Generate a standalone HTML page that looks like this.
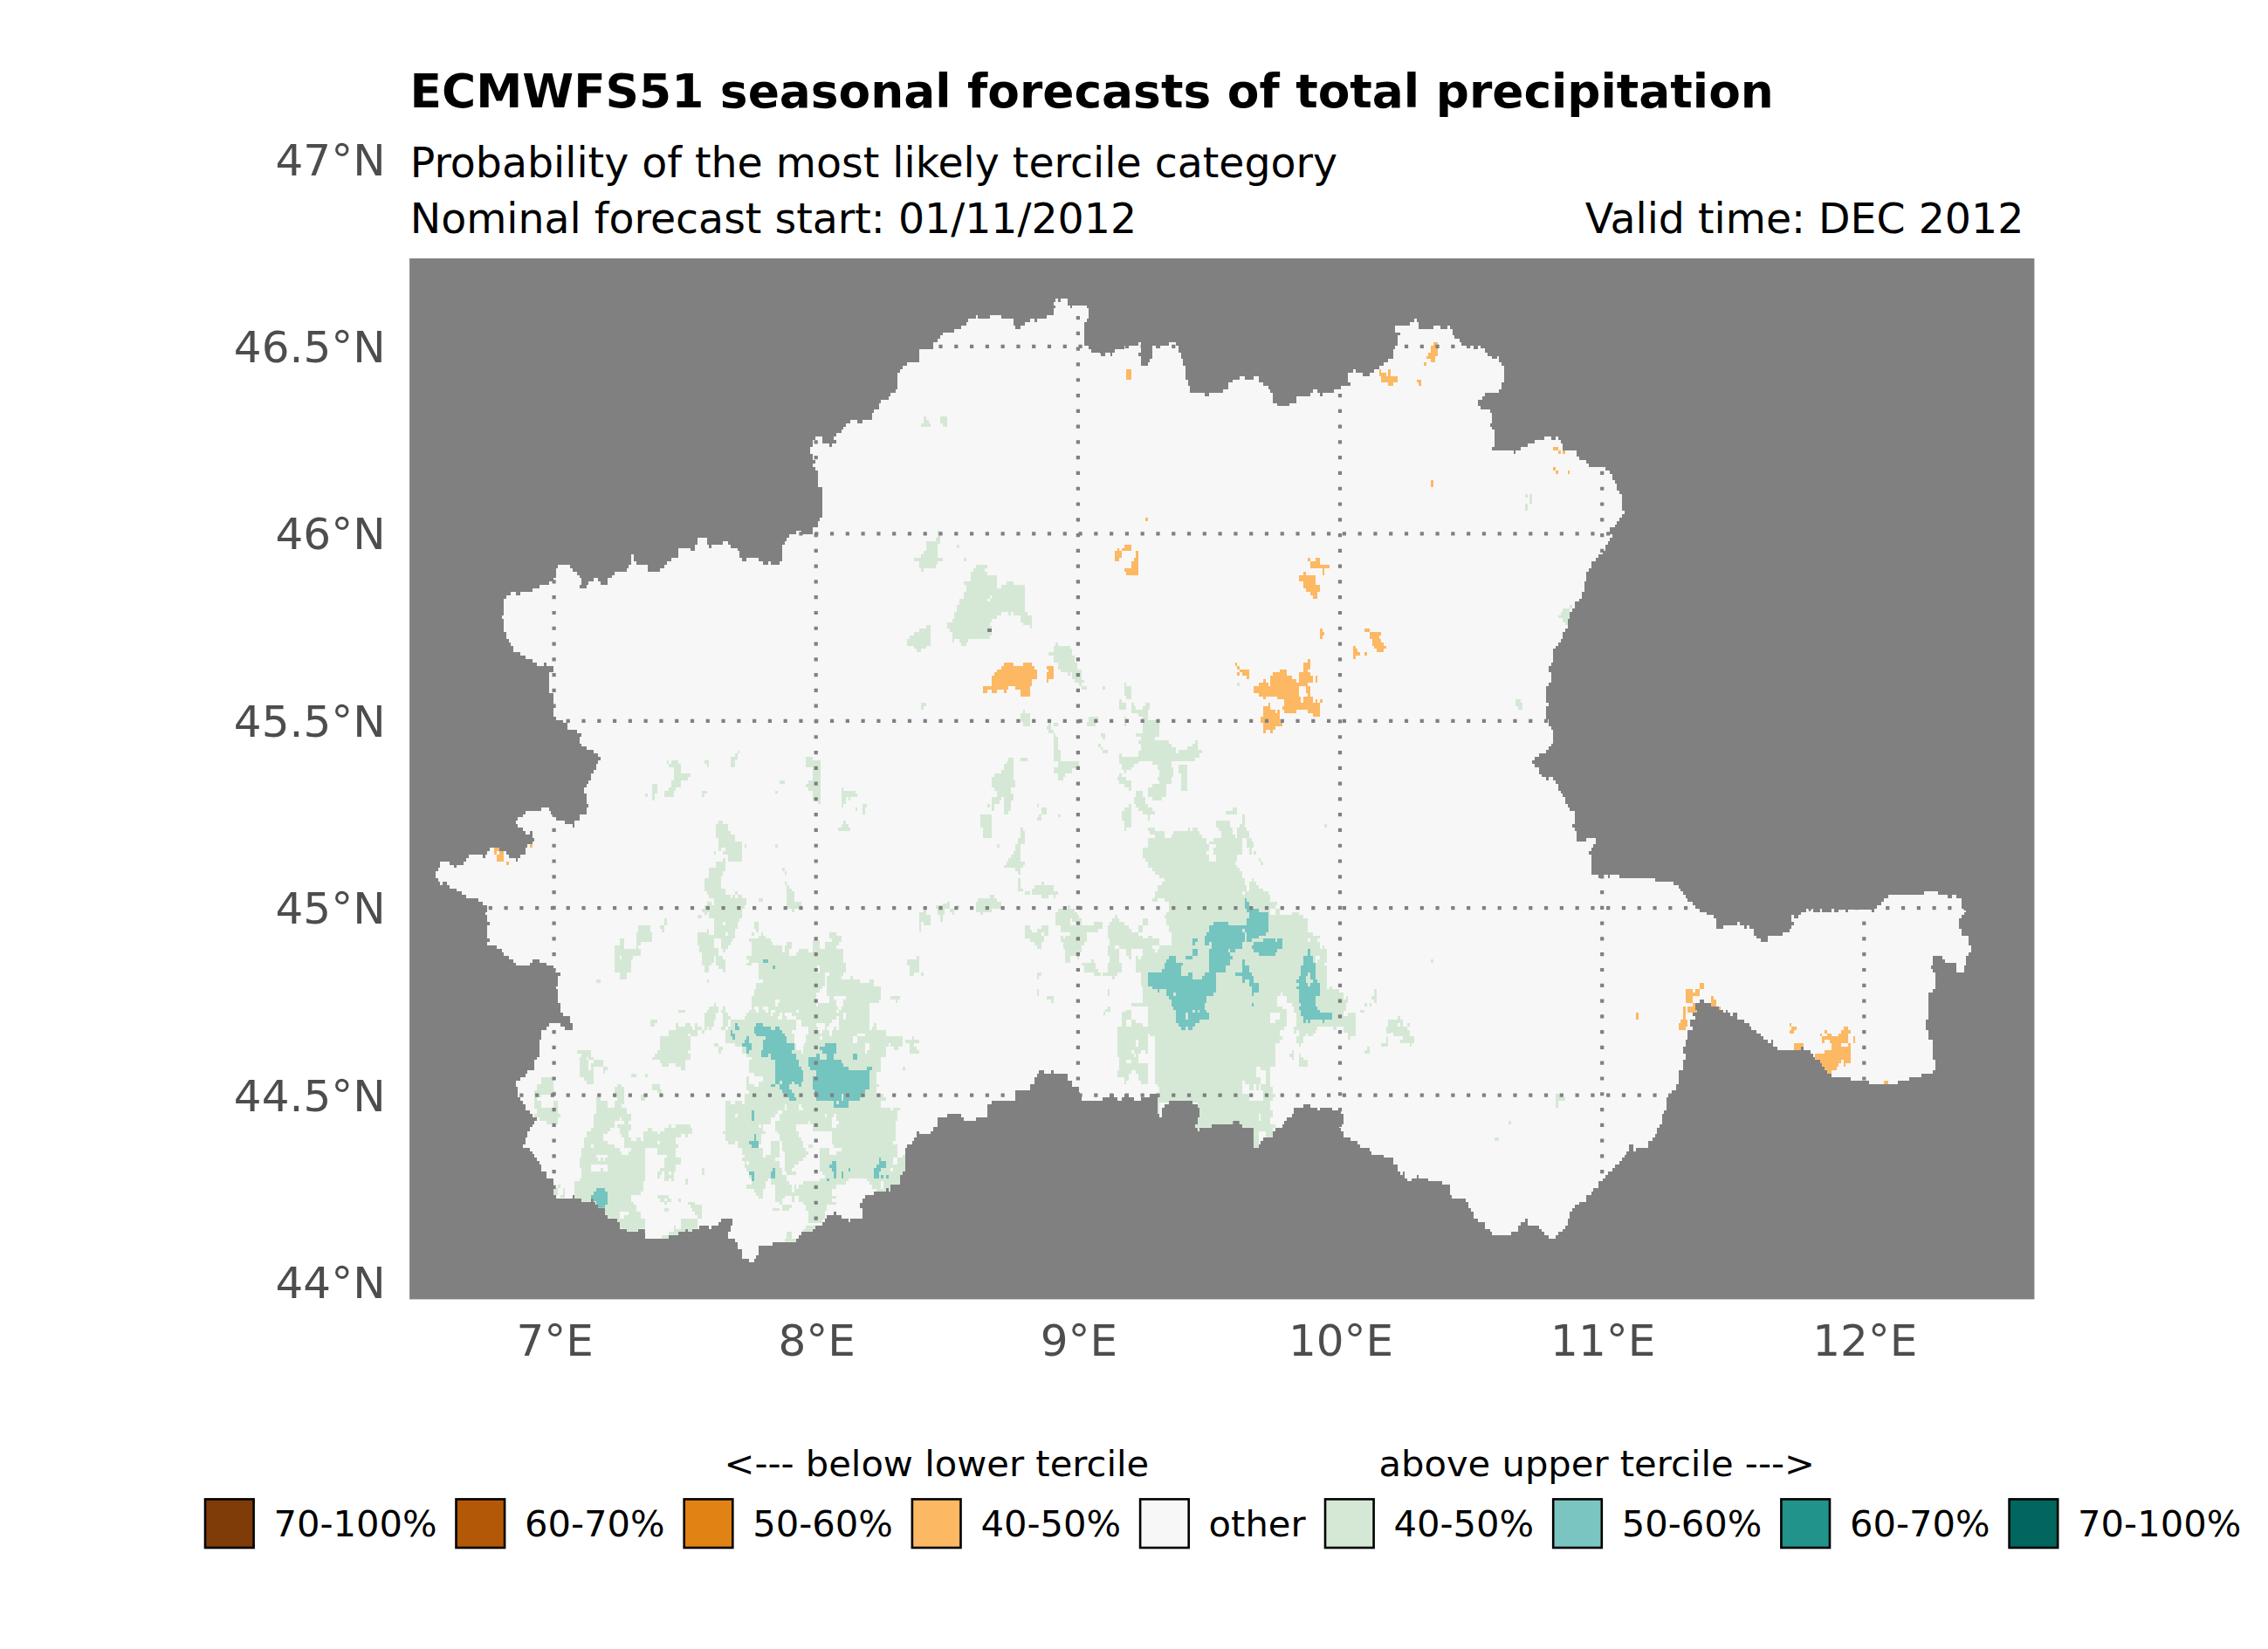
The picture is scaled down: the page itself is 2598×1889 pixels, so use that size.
<!DOCTYPE html>
<html lang="en"><head><meta charset="utf-8"><title>ECMWFS51 seasonal forecasts of total precipitation</title>
<style>html,body{margin:0;padding:0;background:#fff}svg{display:block}</style></head>
<body>
<svg width="2598" height="1889" viewBox="0 0 2598 1889">
<rect x="0" y="0" width="2598" height="1889" fill="#ffffff"/>
<rect x="469.1" y="296" width="1861.3" height="1192.4" fill="#808080"/>
<g shape-rendering="crispEdges">
<defs><clipPath id="landclip"><path d="M942,581 L942,558.2 L937.1,558.2 L937.1,539.1 L934.1,539.1 L934.1,535.1 L931.1,535.1 L931.1,531 L934.1,531 L934.1,527.1 L931.1,527.1 L931.1,520.1 L928.1,520.1 L928.1,512 L931.1,512 L931.1,504 L934.1,504 L934.1,500 L942,500 L942,507.6 L950,507.6 L950,511.6 L953,511.6 L953,507.6 L957.9,507.6 L957.9,504.2 L954.9,504.2 L954.9,500 L957.9,500 L957.9,495.9 L963.9,495.9 L963.9,491.9 L966,491.9 L966,488.7 L969,488.7 L969,485 L974.2,485 L974.2,481.1 L982.1,481.1 L982.1,484.6 L987.9,484.6 L987.9,481.1 L998.9,481.1 L998.9,473.1 L1000.8,473.1 L1000.8,469.1 L1006.8,469.1 L1006.8,462 L1009.1,462 L1009.1,458 L1017.9,458 L1017.9,454.1 L1020.2,454.1 L1020.2,450.2 L1025.9,450.2 L1025.9,446.2 L1028,446.2 L1028,426.7 L1030.8,426.7 L1030.8,422.7 L1033.8,422.7 L1033.8,418.8 L1039.1,418.8 L1039.1,414.9 L1052.9,414.9 L1052.9,399.9 L1069.1,399.9 L1069.1,392 L1074,392 L1074,387.9 L1077,387.9 L1077,384 L1080,384 L1080,381 L1092.9,381 L1092.9,376.8 L1101.2,376.8 L1101.2,372.9 L1107,372.9 L1107,369 L1108.8,369 L1108.8,365.2 L1117.6,365.2 L1117.6,361.1 L1119.7,361.1 L1119.7,365.2 L1133.8,365.2 L1133.8,361.1 L1146.7,361.1 L1146.7,365.2 L1160.8,365.2 L1160.8,372.9 L1163.1,372.9 L1163.1,376.8 L1168.8,376.8 L1168.8,372.9 L1174.1,372.9 L1174.1,369 L1179.9,369 L1179.9,365.2 L1185,365.2 L1185,369 L1187.8,369 L1187.8,365.2 L1198.8,365.2 L1198.8,361.1 L1207.1,361.1 L1207.1,352.6 L1209,352.6 L1209,350 L1207.1,350 L1207.1,346.1 L1209,346.1 L1209,342.1 L1212,342.1 L1212,346.1 L1214.7,346.1 L1214.7,342.1 L1222.9,342.1 L1222.9,350 L1226.1,350 L1226.1,353 L1227.9,353 L1227.9,350 L1245,350 L1245,353 L1247.1,353 L1247.1,365 L1245.2,365 L1245.2,369 L1242,369 L1242,395.9 L1246.9,395.9 L1246.9,399.9 L1249.9,399.9 L1249.9,403.8 L1260,403.8 L1260,403.8 L1261.4,407.9 L1265.6,407.9 L1265.6,403.8 L1272,403.8 L1272,407.9 L1274.1,407.9 L1274.1,403.8 L1277.1,403.8 L1277.1,399.9 L1287.9,399.9 L1287.9,395.9 L1289.1,395.9 L1289.1,399 L1293,399 L1293,395.9 L1303.8,395.9 L1303.8,392 L1306.8,392 L1306.8,403.8 L1304.1,403.8 L1304.1,407.9 L1307.3,407.9 L1307.3,418.8 L1315.1,418.8 L1315.1,414.9 L1316.8,414.9 L1316.8,410.9 L1320,410.9 L1320,395.9 L1324.4,395.9 L1324.4,399 L1328.5,399 L1328.5,395.9 L1338.9,395.9 L1338.9,392 L1347,392 L1347,395.9 L1350,395.9 L1350,403.8 L1353,403.8 L1353,410.9 L1355.3,410.9 L1355.3,418.8 L1358.3,418.8 L1358.3,434.7 L1360.9,434.7 L1360.9,441.7 L1363.2,441.7 L1363.2,450 L1380,450 L1380,454.1 L1384.9,454.1 L1384.9,450 L1400.8,450 L1400.8,446.2 L1406.8,446.2 L1406.8,438.2 L1412.1,438.2 L1412.1,435 L1420,435 L1420,430.8 L1425.9,430.8 L1425.9,435 L1436.1,435 L1436.1,430.8 L1441.7,430.8 L1441.7,438.2 L1447,438.2 L1447,442.1 L1452.9,442.1 L1452.9,446.2 L1455,446.2 L1455,450 L1458,450 L1458,462 L1462.9,462 L1462.9,465 L1477,465 L1477,462 L1485,462 L1485,454.1 L1500.8,454.1 L1500.8,450 L1504,450 L1504,445.8 L1508.8,445.8 L1508.8,450 L1512.3,450 L1512.3,454.1 L1515,454.1 L1515,450 L1527.8,450 L1527.8,446.2 L1536.1,446.2 L1536.1,442.1 L1546.7,442.1 L1546.7,438.2 L1543.7,438.2 L1543.7,426.7 L1549.9,426.7 L1549.9,422.9 L1552.9,422.9 L1552.9,426.7 L1560.8,426.7 L1560.8,430.8 L1568.8,430.8 L1568.8,426.7 L1574.1,426.7 L1574.1,422.9 L1579.9,422.9 L1579.9,418.8 L1585,418.8 L1585,414.9 L1590,414.9 L1590,410.9 L1595.8,410.9 L1595.8,399.9 L1598.4,399.9 L1598.4,395.9 L1601.1,395.9 L1601.1,384 L1604.1,384 L1604.1,381 L1597.9,381 L1597.9,372.9 L1614.7,372.9 L1614.7,369 L1619.9,369 L1619.9,365 L1622.9,365 L1622.9,369 L1624.9,369 L1624.9,376.8 L1642,376.8 L1642,372.9 L1649.9,372.9 L1649.9,376.8 L1657.9,376.8 L1657.9,372.9 L1660,372.9 L1660,372.9 L1661.4,372.9 L1661.4,376.8 L1663.5,376.8 L1663.5,384 L1666.2,384 L1666.2,387.9 L1671.5,387.9 L1671.5,392 L1674.1,392 L1674.1,395.9 L1679.9,395.9 L1679.9,399 L1683.8,399 L1683.8,395.9 L1687.9,395.9 L1687.9,399.9 L1693,399.9 L1693,395.9 L1696.2,395.9 L1696.2,399 L1700.9,399 L1700.9,403.8 L1704.1,403.8 L1704.1,407.9 L1709.1,407.9 L1709.1,410.9 L1715.1,410.9 L1715.1,407.9 L1717,407.9 L1717,414.9 L1720,414.9 L1720,418.8 L1723,418.8 L1723,437.9 L1720,437.9 L1720,445.8 L1716.8,445.8 L1716.8,450.2 L1700.9,450.2 L1700.9,454.1 L1697.9,454.1 L1697.9,458 L1693,458 L1693,465 L1696.2,465 L1696.2,469.1 L1706.8,469.1 L1706.8,473.1 L1709.1,473.1 L1709.1,485 L1706.8,485 L1706.8,489 L1709.1,489 L1709.1,492 L1712.1,492 L1712.1,512 L1709.1,512 L1709.1,515.8 L1734.1,515.8 L1734.1,519.9 L1735.9,519.9 L1735.9,515.8 L1742,515.8 L1742,512 L1750,512 L1750,507.9 L1757.9,507.9 L1757.9,504 L1769,504 L1769,500 L1777,500 L1777,504 L1782.1,504 L1782.1,500 L1784.9,500 L1784.9,504 L1787.9,504 L1787.9,507.9 L1790,507.9 L1790,515.8 L1805.9,515.8 L1805.9,522.9 L1809.1,522.9 L1809.1,527 L1817,527 L1817,530.8 L1820.2,530.8 L1820.2,534.9 L1839.1,534.9 L1839.1,538.8 L1844,538.8 L1844,542.8 L1847,542.8 L1847,549.9 L1850,549.9 L1850,554.1 L1852.3,554.1 L1852.3,561.7 L1855,561.7 L1855,566.1 L1858,566.1 L1858,581 L1858,581 L1858,584.9 L1861.1,584.9 L1861.1,588.9 L1858,588.9 L1858,593 L1855,593 L1855,596.9 L1852.3,596.9 L1852.3,600.9 L1850,600.9 L1850,603.9 L1844,603.9 L1844,611.9 L1847,611.9 L1847,615.9 L1844,615.9 L1844,619.8 L1841.7,619.8 L1841.7,623.9 L1839.1,623.9 L1839.1,630.9 L1836.1,630.9 L1836.1,634.8 L1830.8,634.8 L1830.8,638.9 L1828,638.9 L1828,642.8 L1823.2,642.8 L1823.2,650.7 L1820.2,650.7 L1820.2,655.1 L1817,655.1 L1817,666.2 L1815.3,666.2 L1815.3,677.7 L1812.1,677.7 L1812.1,686 L1809.1,686 L1809.1,689 L1804.2,689 L1804.2,696.9 L1800.8,696.9 L1800.8,701 L1798,701 L1798,708.9 L1795.9,708.9 L1795.9,719.9 L1792.9,719.9 L1792.9,723.9 L1790,723.9 L1790,731.9 L1787.9,731.9 L1787.9,735.9 L1784.9,735.9 L1784.9,739.8 L1782.1,739.8 L1782.1,743 L1779.1,743 L1779.1,758.9 L1777,758.9 L1777,763.1 L1774.2,763.1 L1774.2,769.8 L1777,769.8 L1777,781.8 L1774.2,781.8 L1774.2,786 L1771.2,786 L1771.2,804.7 L1774.2,804.7 L1774.2,808.6 L1771.2,808.6 L1771.2,823.6 L1774.2,823.6 L1774.2,831.6 L1777,831.6 L1777,835.6 L1779.1,835.6 L1779.1,851.5 L1777,851.5 L1777,855 L1774.2,855 L1774.2,858.9 L1771.2,858.9 L1771.2,862.8 L1763.2,862.8 L1763.2,866.8 L1757.9,866.8 L1757.9,870.7 L1755.3,870.7 L1755.3,872 L1755.3,872 L1755.3,874.6 L1757.9,874.6 L1757.9,878.7 L1763.2,878.7 L1763.2,886.6 L1765.9,886.6 L1765.9,889.6 L1771.2,889.6 L1771.2,894.1 L1774.2,894.1 L1774.2,889.6 L1779.1,889.6 L1779.1,894.1 L1782.1,894.1 L1782.1,898.1 L1784.9,898.1 L1784.9,906.1 L1787.9,906.1 L1787.9,909.1 L1790,909.1 L1790,913.1 L1792.9,913.1 L1792.9,921.1 L1795.9,921.1 L1795.9,924.9 L1798,924.9 L1798,929 L1804.2,929 L1804.2,943.8 L1800.8,943.8 L1800.8,947.9 L1804.2,947.9 L1804.2,951.9 L1805.9,951.9 L1805.9,963.8 L1817,963.8 L1817,959.9 L1828,959.9 L1828,966.9 L1825.3,966.9 L1825.3,970.8 L1823.2,970.8 L1823.2,974.9 L1820.2,974.9 L1820.2,978.7 L1823.2,978.7 L1823.2,1002 L1831.2,1002 L1831.2,1006.1 L1837.3,1006.1 L1837.3,1002 L1841.7,1002 L1841.7,1005.6 L1844,1005.6 L1844,1002 L1855,1002 L1855,1006.1 L1896.1,1006.1 L1896.1,1010 L1916.7,1010 L1916.7,1013.7 L1922.9,1013.7 L1922.9,1017.9 L1925.2,1017.9 L1925.2,1021.1 L1928.2,1021.1 L1928.2,1025.2 L1930.8,1025.2 L1930.8,1029 L1933.1,1029 L1933.1,1032.9 L1938.8,1032.9 L1938.8,1037 L1941.8,1037 L1941.8,1041 L1946.7,1041 L1946.7,1044.9 L1954.7,1044.9 L1954.7,1047.9 L1963.1,1047.9 L1963.1,1052 L1966.1,1052 L1966.1,1063.8 L1974.1,1063.8 L1974.1,1059.9 L1990,1059.9 L1990,1056 L1993,1056 L1993,1059.9 L1997.9,1059.9 L1997.9,1063.8 L2001.1,1063.8 L2001.1,1059.9 L2004.1,1059.9 L2004.1,1063.8 L2009,1063.8 L2009,1071.9 L2012,1071.9 L2012,1074.9 L2016.9,1074.9 L2016.9,1078.8 L2024.9,1078.8 L2024.9,1071.9 L2042,1071.9 L2042,1067.9 L2049.9,1067.9 L2049.9,1063.8 L2052.1,1063.8 L2052.1,1059.9 L2054.9,1059.9 L2054.9,1056 L2052.1,1056 L2052.1,1047.9 L2054.9,1047.9 L2054.9,1052 L2060,1052 L2060,1047.9 L2063.2,1047.9 L2063.2,1044.9 L2068.8,1044.9 L2068.8,1041 L2071.5,1041 L2071.5,1044 L2074.1,1044 L2074.1,1041 L2077.1,1041 L2077.1,1044.9 L2085.2,1044.9 L2085.2,1041 L2087.3,1041 L2087.3,1044.9 L2097.9,1044.9 L2097.9,1041 L2100.9,1041 L2100.9,1044.9 L2105.9,1044.9 L2105.9,1041.7 L2113.8,1041.7 L2113.8,1044.9 L2116.8,1044.9 L2116.8,1041.7 L2143.8,1041.7 L2143.8,1044.9 L2147,1044.9 L2147,1041 L2150,1041 L2150,1037 L2155.3,1037 L2155.3,1032.9 L2157.9,1032.9 L2157.9,1029 L2163.2,1029 L2163.2,1025.2 L2204.2,1025.2 L2204.2,1021.1 L2220.2,1021.1 L2220.2,1025.2 L2231.2,1025.2 L2231.2,1029 L2236.1,1029 L2236.1,1025.2 L2240.9,1025.2 L2240.9,1029 L2247,1029 L2247,1041 L2250,1041 L2250,1042.6 L2252.3,1042.6 L2252.3,1044.9 L2250,1044.9 L2250,1047.9 L2247,1047.9 L2247,1052 L2244,1052 L2244,1063.8 L2247,1063.8 L2247,1071.9 L2255,1071.9 L2255,1082.9 L2258,1082.9 L2258,1090.8 L2255,1090.8 L2255,1094.8 L2252.3,1094.8 L2252.3,1105.8 L2250,1105.8 L2250,1113.7 L2240.9,1113.7 L2240.9,1102.8 L2228,1102.8 L2228,1098.7 L2225,1098.7 L2225,1094.8 L2214,1094.8 L2214,1105.8 L2212.1,1105.8 L2212.1,1109.8 L2214,1109.8 L2214,1113.7 L2217,1113.7 L2217,1132.8 L2214,1132.8 L2214,1136.7 L2209.1,1136.7 L2209.1,1163 L2209.1,1163 L2209.1,1167.9 L2206.1,1167.9 L2206.1,1179.9 L2209.1,1179.9 L2209.1,1191 L2214.1,1191 L2214.1,1213.8 L2217.1,1213.8 L2217.1,1225.8 L2214.1,1225.8 L2214.1,1230 L2201.2,1230 L2201.2,1234.1 L2187.1,1234.1 L2187.1,1238 L2174,1238 L2174,1242 L2140.9,1242 L2140.9,1238 L2120.2,1238 L2120.2,1234.1 L2098,1234.1 L2098,1230 L2092.9,1230 L2092.9,1225.8 L2090,1225.8 L2090,1222.1 L2087,1222.1 L2087,1217.9 L2084.9,1217.9 L2084.9,1213.8 L2079.1,1213.8 L2079.1,1210.8 L2077,1210.8 L2077,1206.7 L2074.2,1206.7 L2074.2,1202.9 L2065.9,1202.9 L2065.9,1198.8 L2063.2,1198.8 L2063.2,1202.9 L2035.9,1202.9 L2035.9,1198.8 L2031.1,1198.8 L2031.1,1191 L2028.5,1191 L2028.5,1194.9 L2025.3,1194.9 L2025.3,1191 L2020,1191 L2020,1186.8 L2016.8,1186.8 L2016.8,1183.8 L2012.1,1183.8 L2012.1,1179.9 L2005.9,1179.9 L2005.9,1175.9 L2004.1,1175.9 L2004.1,1171.8 L1997.9,1171.8 L1997.9,1167.9 L1990,1167.9 L1990,1160 L1985.2,1160 L1985.2,1163.9 L1982.1,1163.9 L1982.1,1160 L1979.1,1160 L1979.1,1157 L1977.1,1157 L1977.1,1160 L1974.1,1160 L1974.1,1157 L1968.8,1157 L1968.8,1152.9 L1960,1152.9 L1960,1149.1 L1952.1,1149.1 L1952.1,1145 L1947.3,1145 L1947.3,1149.1 L1942,1149.1 L1942,1157 L1944.1,1157 L1944.1,1160 L1939,1160 L1939,1163.9 L1942,1163.9 L1942,1167.9 L1936.2,1167.9 L1936.2,1175.9 L1939,1175.9 L1939,1179.9 L1933.2,1179.9 L1933.2,1191 L1931.1,1191 L1931.1,1198.8 L1927.9,1198.8 L1927.9,1206.7 L1931.1,1206.7 L1931.1,1213.8 L1927.9,1213.8 L1927.9,1225.8 L1922.9,1225.8 L1922.9,1241.7 L1919.9,1241.7 L1919.9,1249.1 L1914.7,1249.1 L1914.7,1253.2 L1911.1,1253.2 L1911.1,1257 L1909,1257 L1909,1272 L1906.2,1272 L1906.2,1275.9 L1904.1,1275.9 L1904.1,1287.9 L1901.1,1287.9 L1901.1,1291.8 L1897.9,1291.8 L1897.9,1299 L1895.8,1299 L1895.8,1302.9 L1893,1302.9 L1893,1306.8 L1887.8,1306.8 L1887.8,1314.9 L1874.1,1314.9 L1874.1,1318.8 L1871.1,1318.8 L1871.1,1310.9 L1866.1,1310.9 L1866.1,1318.8 L1863.1,1318.8 L1863.1,1322.8 L1860.8,1322.8 L1860.8,1325.8 L1858.2,1325.8 L1858.2,1329.9 L1854.7,1329.9 L1854.7,1333.8 L1849.9,1333.8 L1849.9,1337.8 L1846.7,1337.8 L1846.7,1341.7 L1841.8,1341.7 L1841.8,1345.8 L1838.8,1345.8 L1838.8,1349.7 L1836.1,1349.7 L1836.1,1352.8 L1830.8,1352.8 L1830.8,1360.8 L1825.2,1360.8 L1825.2,1364.7 L1822.9,1364.7 L1822.9,1368.7 L1817.1,1368.7 L1817.1,1376.7 L1808.8,1376.7 L1808.8,1379.7 L1804,1379.7 L1804,1383.7 L1801.2,1383.7 L1801.2,1387.6 L1798.2,1387.6 L1798.2,1391 L1798.2,1391 L1798.2,1396.2 L1796.1,1396.2 L1796.1,1404.1 L1792.9,1404.1 L1792.9,1408 L1789.9,1408 L1789.9,1411.2 L1785,1411.2 L1785,1415 L1782,1415 L1782,1419.1 L1774,1419.1 L1774,1415 L1769.1,1415 L1769.1,1411.2 L1766.1,1411.2 L1766.1,1408 L1762.9,1408 L1762.9,1404.1 L1750,1404.1 L1750,1396.2 L1747,1396.2 L1747,1400 L1741.7,1400 L1741.7,1404.1 L1739.1,1404.1 L1739.1,1411.2 L1730.8,1411.2 L1730.8,1415 L1709.1,1415 L1709.1,1411.2 L1706.8,1411.2 L1706.8,1408 L1700.8,1408 L1700.8,1400 L1692.9,1400 L1692.9,1396.2 L1687.9,1396.2 L1687.9,1391 L1687.9,1391 L1687.9,1387.6 L1684.9,1387.6 L1684.9,1383.7 L1682.1,1383.7 L1682.1,1376.7 L1679.1,1376.7 L1679.1,1373.1 L1663.2,1373.1 L1663.2,1368.7 L1660.9,1368.7 L1660.9,1356.7 L1652.1,1356.7 L1652.1,1352.8 L1635.9,1352.8 L1635.9,1349.7 L1625.3,1349.7 L1625.3,1345.8 L1623,1345.8 L1623,1349.7 L1616.8,1349.7 L1616.8,1352.8 L1612.1,1352.8 L1612.1,1349.7 L1609.1,1349.7 L1609.1,1341.7 L1606.8,1341.7 L1606.8,1345.8 L1604.1,1345.8 L1604.1,1341.7 L1600.9,1341.7 L1600.9,1333.8 L1596.2,1333.8 L1596.2,1325.8 L1585.2,1325.8 L1585.2,1322.8 L1570.9,1322.8 L1570.9,1318.8 L1568.8,1318.8 L1568.8,1314.9 L1560,1314.9 L1560,1314.9 L1557.9,1314.9 L1557.9,1311 L1554.9,1311 L1554.9,1307.1 L1546.9,1307.1 L1546.9,1303.1 L1539,1303.1 L1539,1296 L1536,1296 L1536,1292.1 L1533.9,1292.1 L1533.9,1290.9 L1536.9,1290.9 L1536.9,1287.9 L1538.8,1287.9 L1538.8,1276.3 L1536,1276.3 L1536,1272.9 L1537.1,1272.9 L1537.1,1269 L1533,1269 L1533,1272 L1525.8,1272 L1525.8,1269 L1512.2,1269 L1512.2,1272 L1509,1272 L1509,1269 L1500.9,1269 L1500.9,1265.2 L1493.1,1265.2 L1493.1,1269 L1482.2,1269 L1482.2,1275.9 L1480.1,1275.9 L1480.1,1280 L1474.2,1280 L1474.2,1284 L1471.1,1284 L1471.1,1287.9 L1468.8,1287.9 L1468.8,1291.8 L1460.8,1291.8 L1460.8,1295.9 L1458.2,1295.9 L1458.2,1302.9 L1446.7,1302.9 L1446.7,1306.8 L1443.7,1306.8 L1443.7,1310.9 L1441.8,1310.9 L1441.8,1314.9 L1436.1,1314.9 L1436.1,1291.8 L1422.9,1291.8 L1422.9,1287.9 L1419.7,1287.9 L1419.7,1284 L1412.3,1284 L1412.3,1287.9 L1388,1287.9 L1388,1291.8 L1374,1291.8 L1374,1295.9 L1371.7,1295.9 L1371.7,1291.8 L1369.1,1291.8 L1369.1,1287.9 L1371.7,1287.9 L1371.7,1280 L1374,1280 L1374,1269 L1371.7,1269 L1371.7,1265 L1366.1,1265 L1366.1,1260.9 L1339.1,1260.9 L1339.1,1265 L1333.8,1265 L1333.8,1269 L1330.8,1269 L1330.8,1280 L1328,1280 L1328,1275.9 L1325.9,1275.9 L1325.9,1257 L1328,1257 L1328,1253.2 L1317,1253.2 L1317,1257 L1306.8,1257 L1306.8,1260.9 L1298.9,1260.9 L1298.9,1257 L1292.9,1257 L1292.9,1253.2 L1287.9,1253.2 L1287.9,1257 L1284.9,1257 L1284.9,1260.9 L1280,1260.9 L1280,1257 L1275.6,1257 L1275.6,1253.2 L1270.8,1253.2 L1270.8,1257 L1263.2,1257 L1263.2,1260.9 L1238.9,1260.9 L1238.9,1253.2 L1235.9,1253.2 L1235.9,1245 L1227.9,1245 L1227.9,1238 L1223,1238 L1223,1230 L1206.8,1230 L1206.8,1225.8 L1204.1,1225.8 L1204.1,1230 L1196.2,1230 L1196.2,1225.8 L1190,1225.8 L1190,1230 L1187.9,1230 L1187.9,1234.1 L1185.2,1234.1 L1185.2,1241.7 L1179.9,1241.7 L1179.9,1249.1 L1163.2,1249.1 L1163.2,1260.9 L1160,1260.9 L1160,1261.2 L1136.2,1261.2 L1136.2,1265.2 L1131.1,1265.2 L1131.1,1280 L1118.2,1280 L1118.2,1284.1 L1104.1,1284.1 L1104.1,1280 L1101.1,1280 L1101.1,1276.2 L1085,1276.2 L1085,1280 L1074.1,1280 L1074.1,1291.2 L1068.8,1291.2 L1068.8,1295.9 L1066.1,1295.9 L1066.1,1299.1 L1052.9,1299.1 L1052.9,1295.9 L1049.9,1295.9 L1049.9,1303 L1046.7,1303 L1046.7,1307 L1044.6,1307 L1044.6,1310.9 L1038.8,1310.9 L1038.8,1315 L1037,1315 L1037,1342 L1034,1342 L1034,1345.9 L1030.8,1345.9 L1030.8,1357 L1020.3,1357 L1020.3,1364.9 L1018,1364.9 L1018,1360.9 L1015,1360.9 L1015,1364.9 L1001.2,1364.9 L1001.2,1368.8 L990.8,1368.8 L990.8,1372.9 L988,1372.9 L988,1377.6 L985,1377.6 L985,1383.8 L988,1383.8 L988,1395.6 L974,1395.6 L974,1399.7 L971.7,1399.7 L971.7,1395.6 L963.8,1395.6 L963.8,1391.7 L958,1391.7 L958,1387.9 L955,1387.9 L955,1391.7 L947,1391.7 L947,1395.6 L944.9,1395.6 L944.9,1399.7 L941.7,1399.7 L941.7,1403.7 L933.8,1403.7 L933.8,1407.6 L930.8,1407.6 L930.8,1410.8 L917.9,1410.8 L917.9,1414.7 L914.9,1414.7 L914.9,1418.7 L912.1,1418.7 L912.1,1422.6 L884.9,1422.6 L884.9,1426.7 L869,1426.7 L869,1438 L865.9,1438 L865.9,1442 L864.1,1442 L864.1,1445.9 L857.9,1445.9 L857.9,1442 L850,1442 L850,1430.9 L844.7,1430.9 L844.7,1422.6 L841.5,1422.6 L841.5,1418.7 L834.1,1418.7 L834.1,1410.8 L836.8,1410.8 L836.8,1403.7 L838.9,1403.7 L838.9,1396.1 L826.2,1396.1 L826.2,1399.7 L823,1399.7 L823,1403.7 L815.1,1403.7 L815.1,1407.6 L812.1,1407.6 L812.1,1403.7 L800.9,1403.7 L800.9,1407.6 L793,1407.6 L793,1410.8 L787.9,1410.8 L787.9,1407.6 L785.2,1407.6 L785.2,1410.8 L777.1,1410.8 L777.1,1414.7 L766.2,1414.7 L766.2,1418.7 L760,1418.7 L760,1418.7 L738.8,1418.7 L738.8,1407.6 L730.8,1407.6 L730.8,1410.8 L718,1410.8 L718,1407.6 L710.2,1407.6 L710.2,1399.7 L707,1399.7 L707,1395.6 L696.1,1395.6 L696.1,1391.7 L692.9,1391.7 L692.9,1383.8 L685,1383.8 L685,1379.9 L682,1379.9 L682,1376.7 L679.7,1376.7 L679.7,1372.9 L677,1372.9 L677,1376.7 L666.1,1376.7 L666.1,1372.9 L658,1372.9 L658,1368.8 L655.9,1368.8 L655.9,1372.9 L637.3,1372.9 L637.3,1368.8 L633.8,1368.8 L633.8,1361.7 L636.4,1361.7 L636.4,1357.9 L633.8,1357.9 L633.8,1349.9 L625.9,1349.9 L625.9,1342 L620.2,1342 L620.2,1334 L617.9,1334 L617.9,1330 L614.9,1330 L614.9,1326.1 L612.1,1326.1 L612.1,1322 L610,1322 L610,1318.9 L606.8,1318.9 L606.8,1315 L598.9,1315 L598.9,1310.9 L602,1310.9 L602,1303 L604.2,1303 L604.2,1295.9 L606.8,1295.9 L606.8,1291.2 L610,1291.2 L610,1288 L612.1,1288 L612.1,1284.1 L614.9,1284.1 L614.9,1280 L610,1280 L610,1276.2 L606.8,1276.2 L606.8,1272.1 L602,1272.1 L602,1265.2 L598.9,1265.2 L598.9,1261.2 L595.9,1261.2 L595.9,1257.1 L592.9,1257.1 L592.9,1252.9 L592.9,1245.3 L590.9,1245.3 L590.9,1238.2 L595.9,1238.2 L595.9,1234.3 L602,1234.3 L602,1230.3 L604.2,1230.3 L604.2,1226.2 L612.1,1226.2 L612.1,1214.4 L614.9,1214.4 L614.9,1210.9 L617.9,1210.9 L617.9,1190.9 L620.2,1190.9 L620.2,1180 L619.9,1180 L625.9,1180 L625.9,1176 L629,1176 L629,1172.1 L642.1,1172.1 L642.1,1176 L647,1176 L647,1179.7 L655.8,1179.7 L655.8,1172.1 L653,1172.1 L653,1164.1 L644.9,1164.1 L644.9,1160.2 L641.9,1160.2 L641.9,1149 L638.9,1149 L638.9,1133 L637,1133 L637,1130 L637,1130 L639.1,1130 L639.1,1117.5 L641.7,1117.5 L641.7,1113.6 L636.4,1113.6 L636.4,1108.7 L633.8,1108.7 L633.8,1106 L625.9,1106 L625.9,1103 L617.9,1103 L617.9,1099 L610,1099 L610,1103 L606.8,1103 L606.8,1106 L590.9,1106 L590.9,1103 L587.9,1103 L587.9,1099 L583,1099 L583,1095.1 L577,1095.1 L577,1091 L574.7,1091 L574.7,1086.6 L569,1086.6 L569,1082.7 L557.9,1082.7 L557.9,1078.7 L560.9,1078.7 L560.9,1074.8 L557.9,1074.8 L557.9,1059.8 L560.9,1059.8 L560.9,1055.7 L557.9,1055.7 L557.9,1047.8 L556.2,1047.8 L556.2,1044.8 L557.9,1044.8 L557.9,1036.9 L553,1036.9 L553,1033.2 L547.9,1033.2 L547.9,1029.3 L534.1,1029.3 L534.1,1024.9 L528.8,1024.9 L528.8,1021 L523,1021 L523,1017.8 L515.1,1017.8 L515.1,1013.9 L512.1,1013.9 L512.1,1009.9 L506.8,1009.9 L506.8,1013.9 L504.1,1013.9 L504.1,1009.9 L501.8,1009.9 L501.8,1006 L498.8,1006 L498.8,998 L501.8,998 L501.8,994 L504.1,994 L504.1,986.9 L515.1,986.9 L515.1,991 L520,991 L520,994 L523,994 L523,991 L531.1,991 L531.1,986.9 L534.1,986.9 L534.1,983 L537.1,983 L537.1,979 L553,979 L553,983 L556.2,983 L556.2,979 L557.9,979 L557.9,975.1 L560.9,975.1 L560.9,971 L572,971 L572,975.1 L580,975.1 L580,979 L583,979 L583,983 L590.9,983 L590.9,986.9 L592.9,986.9 L592.9,983 L595.9,983 L595.9,979 L602,979 L602,971 L604.2,971 L604.2,967.2 L610,967.2 L610,964 L612.1,964 L612.1,960.1 L610,960.1 L610,952 L606.8,952 L606.8,956 L602,956 L602,952 L598.9,952 L598.9,948.1 L592.9,948.1 L592.9,944.1 L590.9,944.1 L590.9,940.2 L592.9,940.2 L592.9,936.1 L598.9,936.1 L598.9,933.1 L602,933.1 L602,929.1 L620.2,929.1 L620.2,925.2 L628.9,925.2 L628.9,929.1 L630.8,929.1 L630.8,933.1 L632.9,933.1 L632.9,936.1 L637.3,936.1 L637.3,940.2 L647,940.2 L647,944.1 L655.9,944.1 L655.9,948.1 L658,948.1 L658,940.2 L663.8,940.2 L663.8,933.1 L671.7,933.1 L671.7,925.2 L674,925.2 L674,921.1 L671.7,921.1 L671.7,908.9 L669.1,908.9 L669.1,902.2 L671.7,902.2 L671.7,898.2 L674,898.2 L674,894.3 L677,894.3 L677,889 L677,889 L677,885.6 L679.7,885.6 L679.7,881.7 L682.7,881.7 L682.7,874.7 L685,874.7 L685,870.6 L688,870.6 L688,866.7 L685,866.7 L685,862.7 L679.7,862.7 L679.7,858.8 L671.7,858.8 L671.7,854.7 L666.1,854.7 L666.1,851.7 L663.8,851.7 L663.8,843.8 L666.1,843.8 L666.1,839.7 L660.8,839.7 L660.8,835.8 L650,835.8 L650,827.9 L644.9,827.9 L644.9,824.7 L637,824.7 L637,820.8 L633.8,820.8 L633.8,811.1 L636.4,811.1 L636.4,807.1 L633.8,807.1 L633.8,793.9 L628.9,793.9 L628.9,770 L633.8,770 L633.8,763 L625.9,763 L625.9,758.9 L623.2,758.9 L623.2,763 L614.9,763 L614.9,758.9 L610,758.9 L610,755 L602,755 L602,751.2 L595.9,751.2 L595.9,747.1 L587.9,747.1 L587.9,740 L584.9,740 L584.9,736 L583,736 L583,732.1 L580,732.1 L580,723.8 L577,723.8 L577,709.2 L574.7,709.2 L574.7,704.7 L577,704.7 L577,686.2 L580,686.2 L580,681.8 L584.9,681.8 L584.9,677.9 L590.9,677.9 L590.9,681.8 L595.9,681.8 L595.9,677.9 L610,677.9 L610,673.9 L617.9,673.9 L617.9,669.8 L628.9,669.8 L628.9,665.9 L633.8,665.9 L633.8,662.4 L637,662.4 L637,650.9 L639.1,650.9 L639.1,647.1 L652.9,647.1 L652.9,650.9 L655.9,650.9 L655.9,655 L660.8,655 L660.8,658.9 L663.8,658.9 L663.8,662.4 L666.1,662.4 L666.1,669.8 L663.8,669.8 L663.8,673.9 L671.7,673.9 L671.7,669.8 L674,669.8 L674,665.9 L679.7,665.9 L679.7,661.9 L685,661.9 L685,665.9 L688,665.9 L688,669.8 L696.1,669.8 L696.1,662.4 L701.2,662.4 L701.2,658.9 L704,658.9 L704,655 L718,655 L718,650.9 L719.7,650.9 L719.7,647.1 L722.9,647.1 L722.9,635.1 L725.9,635.1 L725.9,643 L728.7,643 L728.7,647.1 L741.8,647.1 L741.8,655 L755.9,655 L755.9,650.9 L760.8,650.9 L760.8,647.1 L763.8,647.1 L763.8,643 L768.8,643 L768.8,639.1 L777.1,639.1 L777.1,628 L791.4,628 L791.4,631 L795.8,631 L795.8,624.1 L798.8,624.1 L798.8,615.6 L809.9,615.6 L809.9,624.1 L812,624.1 L812,628 L814.7,628 L814.7,624.1 L827.9,624.1 L827.9,620.1 L834.1,620.1 L834.1,624.1 L837.1,624.1 L837.1,628 L845,628 L845,631 L847.3,631 L847.3,639.1 L849.9,639.1 L849.9,643 L854.9,643 L854.9,639.1 L860,639.1 L860,639 L869,639 L869,642.9 L874.2,642.9 L874.2,646.8 L880,646.8 L880,642.9 L883,642.9 L883,646.8 L892.9,646.8 L892.9,642.9 L895.9,642.9 L895.9,624 L898.9,624 L898.9,620 L900.8,620 L900.8,615.9 L904.2,615.9 L904.2,612 L912.1,612 L912.1,608 L917.9,608 L917.9,612 L930.8,612 L930.8,604.1 L937,604.1 L937,596.7 L939.1,596.7 L939.1,592.6 L941.9,592.6 L941.9,581Z"/></clipPath></defs>
<path d="M942,581 L942,558.2 L937.1,558.2 L937.1,539.1 L934.1,539.1 L934.1,535.1 L931.1,535.1 L931.1,531 L934.1,531 L934.1,527.1 L931.1,527.1 L931.1,520.1 L928.1,520.1 L928.1,512 L931.1,512 L931.1,504 L934.1,504 L934.1,500 L942,500 L942,507.6 L950,507.6 L950,511.6 L953,511.6 L953,507.6 L957.9,507.6 L957.9,504.2 L954.9,504.2 L954.9,500 L957.9,500 L957.9,495.9 L963.9,495.9 L963.9,491.9 L966,491.9 L966,488.7 L969,488.7 L969,485 L974.2,485 L974.2,481.1 L982.1,481.1 L982.1,484.6 L987.9,484.6 L987.9,481.1 L998.9,481.1 L998.9,473.1 L1000.8,473.1 L1000.8,469.1 L1006.8,469.1 L1006.8,462 L1009.1,462 L1009.1,458 L1017.9,458 L1017.9,454.1 L1020.2,454.1 L1020.2,450.2 L1025.9,450.2 L1025.9,446.2 L1028,446.2 L1028,426.7 L1030.8,426.7 L1030.8,422.7 L1033.8,422.7 L1033.8,418.8 L1039.1,418.8 L1039.1,414.9 L1052.9,414.9 L1052.9,399.9 L1069.1,399.9 L1069.1,392 L1074,392 L1074,387.9 L1077,387.9 L1077,384 L1080,384 L1080,381 L1092.9,381 L1092.9,376.8 L1101.2,376.8 L1101.2,372.9 L1107,372.9 L1107,369 L1108.8,369 L1108.8,365.2 L1117.6,365.2 L1117.6,361.1 L1119.7,361.1 L1119.7,365.2 L1133.8,365.2 L1133.8,361.1 L1146.7,361.1 L1146.7,365.2 L1160.8,365.2 L1160.8,372.9 L1163.1,372.9 L1163.1,376.8 L1168.8,376.8 L1168.8,372.9 L1174.1,372.9 L1174.1,369 L1179.9,369 L1179.9,365.2 L1185,365.2 L1185,369 L1187.8,369 L1187.8,365.2 L1198.8,365.2 L1198.8,361.1 L1207.1,361.1 L1207.1,352.6 L1209,352.6 L1209,350 L1207.1,350 L1207.1,346.1 L1209,346.1 L1209,342.1 L1212,342.1 L1212,346.1 L1214.7,346.1 L1214.7,342.1 L1222.9,342.1 L1222.9,350 L1226.1,350 L1226.1,353 L1227.9,353 L1227.9,350 L1245,350 L1245,353 L1247.1,353 L1247.1,365 L1245.2,365 L1245.2,369 L1242,369 L1242,395.9 L1246.9,395.9 L1246.9,399.9 L1249.9,399.9 L1249.9,403.8 L1260,403.8 L1260,403.8 L1261.4,407.9 L1265.6,407.9 L1265.6,403.8 L1272,403.8 L1272,407.9 L1274.1,407.9 L1274.1,403.8 L1277.1,403.8 L1277.1,399.9 L1287.9,399.9 L1287.9,395.9 L1289.1,395.9 L1289.1,399 L1293,399 L1293,395.9 L1303.8,395.9 L1303.8,392 L1306.8,392 L1306.8,403.8 L1304.1,403.8 L1304.1,407.9 L1307.3,407.9 L1307.3,418.8 L1315.1,418.8 L1315.1,414.9 L1316.8,414.9 L1316.8,410.9 L1320,410.9 L1320,395.9 L1324.4,395.9 L1324.4,399 L1328.5,399 L1328.5,395.9 L1338.9,395.9 L1338.9,392 L1347,392 L1347,395.9 L1350,395.9 L1350,403.8 L1353,403.8 L1353,410.9 L1355.3,410.9 L1355.3,418.8 L1358.3,418.8 L1358.3,434.7 L1360.9,434.7 L1360.9,441.7 L1363.2,441.7 L1363.2,450 L1380,450 L1380,454.1 L1384.9,454.1 L1384.9,450 L1400.8,450 L1400.8,446.2 L1406.8,446.2 L1406.8,438.2 L1412.1,438.2 L1412.1,435 L1420,435 L1420,430.8 L1425.9,430.8 L1425.9,435 L1436.1,435 L1436.1,430.8 L1441.7,430.8 L1441.7,438.2 L1447,438.2 L1447,442.1 L1452.9,442.1 L1452.9,446.2 L1455,446.2 L1455,450 L1458,450 L1458,462 L1462.9,462 L1462.9,465 L1477,465 L1477,462 L1485,462 L1485,454.1 L1500.8,454.1 L1500.8,450 L1504,450 L1504,445.8 L1508.8,445.8 L1508.8,450 L1512.3,450 L1512.3,454.1 L1515,454.1 L1515,450 L1527.8,450 L1527.8,446.2 L1536.1,446.2 L1536.1,442.1 L1546.7,442.1 L1546.7,438.2 L1543.7,438.2 L1543.7,426.7 L1549.9,426.7 L1549.9,422.9 L1552.9,422.9 L1552.9,426.7 L1560.8,426.7 L1560.8,430.8 L1568.8,430.8 L1568.8,426.7 L1574.1,426.7 L1574.1,422.9 L1579.9,422.9 L1579.9,418.8 L1585,418.8 L1585,414.9 L1590,414.9 L1590,410.9 L1595.8,410.9 L1595.8,399.9 L1598.4,399.9 L1598.4,395.9 L1601.1,395.9 L1601.1,384 L1604.1,384 L1604.1,381 L1597.9,381 L1597.9,372.9 L1614.7,372.9 L1614.7,369 L1619.9,369 L1619.9,365 L1622.9,365 L1622.9,369 L1624.9,369 L1624.9,376.8 L1642,376.8 L1642,372.9 L1649.9,372.9 L1649.9,376.8 L1657.9,376.8 L1657.9,372.9 L1660,372.9 L1660,372.9 L1661.4,372.9 L1661.4,376.8 L1663.5,376.8 L1663.5,384 L1666.2,384 L1666.2,387.9 L1671.5,387.9 L1671.5,392 L1674.1,392 L1674.1,395.9 L1679.9,395.9 L1679.9,399 L1683.8,399 L1683.8,395.9 L1687.9,395.9 L1687.9,399.9 L1693,399.9 L1693,395.9 L1696.2,395.9 L1696.2,399 L1700.9,399 L1700.9,403.8 L1704.1,403.8 L1704.1,407.9 L1709.1,407.9 L1709.1,410.9 L1715.1,410.9 L1715.1,407.9 L1717,407.9 L1717,414.9 L1720,414.9 L1720,418.8 L1723,418.8 L1723,437.9 L1720,437.9 L1720,445.8 L1716.8,445.8 L1716.8,450.2 L1700.9,450.2 L1700.9,454.1 L1697.9,454.1 L1697.9,458 L1693,458 L1693,465 L1696.2,465 L1696.2,469.1 L1706.8,469.1 L1706.8,473.1 L1709.1,473.1 L1709.1,485 L1706.8,485 L1706.8,489 L1709.1,489 L1709.1,492 L1712.1,492 L1712.1,512 L1709.1,512 L1709.1,515.8 L1734.1,515.8 L1734.1,519.9 L1735.9,519.9 L1735.9,515.8 L1742,515.8 L1742,512 L1750,512 L1750,507.9 L1757.9,507.9 L1757.9,504 L1769,504 L1769,500 L1777,500 L1777,504 L1782.1,504 L1782.1,500 L1784.9,500 L1784.9,504 L1787.9,504 L1787.9,507.9 L1790,507.9 L1790,515.8 L1805.9,515.8 L1805.9,522.9 L1809.1,522.9 L1809.1,527 L1817,527 L1817,530.8 L1820.2,530.8 L1820.2,534.9 L1839.1,534.9 L1839.1,538.8 L1844,538.8 L1844,542.8 L1847,542.8 L1847,549.9 L1850,549.9 L1850,554.1 L1852.3,554.1 L1852.3,561.7 L1855,561.7 L1855,566.1 L1858,566.1 L1858,581 L1858,581 L1858,584.9 L1861.1,584.9 L1861.1,588.9 L1858,588.9 L1858,593 L1855,593 L1855,596.9 L1852.3,596.9 L1852.3,600.9 L1850,600.9 L1850,603.9 L1844,603.9 L1844,611.9 L1847,611.9 L1847,615.9 L1844,615.9 L1844,619.8 L1841.7,619.8 L1841.7,623.9 L1839.1,623.9 L1839.1,630.9 L1836.1,630.9 L1836.1,634.8 L1830.8,634.8 L1830.8,638.9 L1828,638.9 L1828,642.8 L1823.2,642.8 L1823.2,650.7 L1820.2,650.7 L1820.2,655.1 L1817,655.1 L1817,666.2 L1815.3,666.2 L1815.3,677.7 L1812.1,677.7 L1812.1,686 L1809.1,686 L1809.1,689 L1804.2,689 L1804.2,696.9 L1800.8,696.9 L1800.8,701 L1798,701 L1798,708.9 L1795.9,708.9 L1795.9,719.9 L1792.9,719.9 L1792.9,723.9 L1790,723.9 L1790,731.9 L1787.9,731.9 L1787.9,735.9 L1784.9,735.9 L1784.9,739.8 L1782.1,739.8 L1782.1,743 L1779.1,743 L1779.1,758.9 L1777,758.9 L1777,763.1 L1774.2,763.1 L1774.2,769.8 L1777,769.8 L1777,781.8 L1774.2,781.8 L1774.2,786 L1771.2,786 L1771.2,804.7 L1774.2,804.7 L1774.2,808.6 L1771.2,808.6 L1771.2,823.6 L1774.2,823.6 L1774.2,831.6 L1777,831.6 L1777,835.6 L1779.1,835.6 L1779.1,851.5 L1777,851.5 L1777,855 L1774.2,855 L1774.2,858.9 L1771.2,858.9 L1771.2,862.8 L1763.2,862.8 L1763.2,866.8 L1757.9,866.8 L1757.9,870.7 L1755.3,870.7 L1755.3,872 L1755.3,872 L1755.3,874.6 L1757.9,874.6 L1757.9,878.7 L1763.2,878.7 L1763.2,886.6 L1765.9,886.6 L1765.9,889.6 L1771.2,889.6 L1771.2,894.1 L1774.2,894.1 L1774.2,889.6 L1779.1,889.6 L1779.1,894.1 L1782.1,894.1 L1782.1,898.1 L1784.9,898.1 L1784.9,906.1 L1787.9,906.1 L1787.9,909.1 L1790,909.1 L1790,913.1 L1792.9,913.1 L1792.9,921.1 L1795.9,921.1 L1795.9,924.9 L1798,924.9 L1798,929 L1804.2,929 L1804.2,943.8 L1800.8,943.8 L1800.8,947.9 L1804.2,947.9 L1804.2,951.9 L1805.9,951.9 L1805.9,963.8 L1817,963.8 L1817,959.9 L1828,959.9 L1828,966.9 L1825.3,966.9 L1825.3,970.8 L1823.2,970.8 L1823.2,974.9 L1820.2,974.9 L1820.2,978.7 L1823.2,978.7 L1823.2,1002 L1831.2,1002 L1831.2,1006.1 L1837.3,1006.1 L1837.3,1002 L1841.7,1002 L1841.7,1005.6 L1844,1005.6 L1844,1002 L1855,1002 L1855,1006.1 L1896.1,1006.1 L1896.1,1010 L1916.7,1010 L1916.7,1013.7 L1922.9,1013.7 L1922.9,1017.9 L1925.2,1017.9 L1925.2,1021.1 L1928.2,1021.1 L1928.2,1025.2 L1930.8,1025.2 L1930.8,1029 L1933.1,1029 L1933.1,1032.9 L1938.8,1032.9 L1938.8,1037 L1941.8,1037 L1941.8,1041 L1946.7,1041 L1946.7,1044.9 L1954.7,1044.9 L1954.7,1047.9 L1963.1,1047.9 L1963.1,1052 L1966.1,1052 L1966.1,1063.8 L1974.1,1063.8 L1974.1,1059.9 L1990,1059.9 L1990,1056 L1993,1056 L1993,1059.9 L1997.9,1059.9 L1997.9,1063.8 L2001.1,1063.8 L2001.1,1059.9 L2004.1,1059.9 L2004.1,1063.8 L2009,1063.8 L2009,1071.9 L2012,1071.9 L2012,1074.9 L2016.9,1074.9 L2016.9,1078.8 L2024.9,1078.8 L2024.9,1071.9 L2042,1071.9 L2042,1067.9 L2049.9,1067.9 L2049.9,1063.8 L2052.1,1063.8 L2052.1,1059.9 L2054.9,1059.9 L2054.9,1056 L2052.1,1056 L2052.1,1047.9 L2054.9,1047.9 L2054.9,1052 L2060,1052 L2060,1047.9 L2063.2,1047.9 L2063.2,1044.9 L2068.8,1044.9 L2068.8,1041 L2071.5,1041 L2071.5,1044 L2074.1,1044 L2074.1,1041 L2077.1,1041 L2077.1,1044.9 L2085.2,1044.9 L2085.2,1041 L2087.3,1041 L2087.3,1044.9 L2097.9,1044.9 L2097.9,1041 L2100.9,1041 L2100.9,1044.9 L2105.9,1044.9 L2105.9,1041.7 L2113.8,1041.7 L2113.8,1044.9 L2116.8,1044.9 L2116.8,1041.7 L2143.8,1041.7 L2143.8,1044.9 L2147,1044.9 L2147,1041 L2150,1041 L2150,1037 L2155.3,1037 L2155.3,1032.9 L2157.9,1032.9 L2157.9,1029 L2163.2,1029 L2163.2,1025.2 L2204.2,1025.2 L2204.2,1021.1 L2220.2,1021.1 L2220.2,1025.2 L2231.2,1025.2 L2231.2,1029 L2236.1,1029 L2236.1,1025.2 L2240.9,1025.2 L2240.9,1029 L2247,1029 L2247,1041 L2250,1041 L2250,1042.6 L2252.3,1042.6 L2252.3,1044.9 L2250,1044.9 L2250,1047.9 L2247,1047.9 L2247,1052 L2244,1052 L2244,1063.8 L2247,1063.8 L2247,1071.9 L2255,1071.9 L2255,1082.9 L2258,1082.9 L2258,1090.8 L2255,1090.8 L2255,1094.8 L2252.3,1094.8 L2252.3,1105.8 L2250,1105.8 L2250,1113.7 L2240.9,1113.7 L2240.9,1102.8 L2228,1102.8 L2228,1098.7 L2225,1098.7 L2225,1094.8 L2214,1094.8 L2214,1105.8 L2212.1,1105.8 L2212.1,1109.8 L2214,1109.8 L2214,1113.7 L2217,1113.7 L2217,1132.8 L2214,1132.8 L2214,1136.7 L2209.1,1136.7 L2209.1,1163 L2209.1,1163 L2209.1,1167.9 L2206.1,1167.9 L2206.1,1179.9 L2209.1,1179.9 L2209.1,1191 L2214.1,1191 L2214.1,1213.8 L2217.1,1213.8 L2217.1,1225.8 L2214.1,1225.8 L2214.1,1230 L2201.2,1230 L2201.2,1234.1 L2187.1,1234.1 L2187.1,1238 L2174,1238 L2174,1242 L2140.9,1242 L2140.9,1238 L2120.2,1238 L2120.2,1234.1 L2098,1234.1 L2098,1230 L2092.9,1230 L2092.9,1225.8 L2090,1225.8 L2090,1222.1 L2087,1222.1 L2087,1217.9 L2084.9,1217.9 L2084.9,1213.8 L2079.1,1213.8 L2079.1,1210.8 L2077,1210.8 L2077,1206.7 L2074.2,1206.7 L2074.2,1202.9 L2065.9,1202.9 L2065.9,1198.8 L2063.2,1198.8 L2063.2,1202.9 L2035.9,1202.9 L2035.9,1198.8 L2031.1,1198.8 L2031.1,1191 L2028.5,1191 L2028.5,1194.9 L2025.3,1194.9 L2025.3,1191 L2020,1191 L2020,1186.8 L2016.8,1186.8 L2016.8,1183.8 L2012.1,1183.8 L2012.1,1179.9 L2005.9,1179.9 L2005.9,1175.9 L2004.1,1175.9 L2004.1,1171.8 L1997.9,1171.8 L1997.9,1167.9 L1990,1167.9 L1990,1160 L1985.2,1160 L1985.2,1163.9 L1982.1,1163.9 L1982.1,1160 L1979.1,1160 L1979.1,1157 L1977.1,1157 L1977.1,1160 L1974.1,1160 L1974.1,1157 L1968.8,1157 L1968.8,1152.9 L1960,1152.9 L1960,1149.1 L1952.1,1149.1 L1952.1,1145 L1947.3,1145 L1947.3,1149.1 L1942,1149.1 L1942,1157 L1944.1,1157 L1944.1,1160 L1939,1160 L1939,1163.9 L1942,1163.9 L1942,1167.9 L1936.2,1167.9 L1936.2,1175.9 L1939,1175.9 L1939,1179.9 L1933.2,1179.9 L1933.2,1191 L1931.1,1191 L1931.1,1198.8 L1927.9,1198.8 L1927.9,1206.7 L1931.1,1206.7 L1931.1,1213.8 L1927.9,1213.8 L1927.9,1225.8 L1922.9,1225.8 L1922.9,1241.7 L1919.9,1241.7 L1919.9,1249.1 L1914.7,1249.1 L1914.7,1253.2 L1911.1,1253.2 L1911.1,1257 L1909,1257 L1909,1272 L1906.2,1272 L1906.2,1275.9 L1904.1,1275.9 L1904.1,1287.9 L1901.1,1287.9 L1901.1,1291.8 L1897.9,1291.8 L1897.9,1299 L1895.8,1299 L1895.8,1302.9 L1893,1302.9 L1893,1306.8 L1887.8,1306.8 L1887.8,1314.9 L1874.1,1314.9 L1874.1,1318.8 L1871.1,1318.8 L1871.1,1310.9 L1866.1,1310.9 L1866.1,1318.8 L1863.1,1318.8 L1863.1,1322.8 L1860.8,1322.8 L1860.8,1325.8 L1858.2,1325.8 L1858.2,1329.9 L1854.7,1329.9 L1854.7,1333.8 L1849.9,1333.8 L1849.9,1337.8 L1846.7,1337.8 L1846.7,1341.7 L1841.8,1341.7 L1841.8,1345.8 L1838.8,1345.8 L1838.8,1349.7 L1836.1,1349.7 L1836.1,1352.8 L1830.8,1352.8 L1830.8,1360.8 L1825.2,1360.8 L1825.2,1364.7 L1822.9,1364.7 L1822.9,1368.7 L1817.1,1368.7 L1817.1,1376.7 L1808.8,1376.7 L1808.8,1379.7 L1804,1379.7 L1804,1383.7 L1801.2,1383.7 L1801.2,1387.6 L1798.2,1387.6 L1798.2,1391 L1798.2,1391 L1798.2,1396.2 L1796.1,1396.2 L1796.1,1404.1 L1792.9,1404.1 L1792.9,1408 L1789.9,1408 L1789.9,1411.2 L1785,1411.2 L1785,1415 L1782,1415 L1782,1419.1 L1774,1419.1 L1774,1415 L1769.1,1415 L1769.1,1411.2 L1766.1,1411.2 L1766.1,1408 L1762.9,1408 L1762.9,1404.1 L1750,1404.1 L1750,1396.2 L1747,1396.2 L1747,1400 L1741.7,1400 L1741.7,1404.1 L1739.1,1404.1 L1739.1,1411.2 L1730.8,1411.2 L1730.8,1415 L1709.1,1415 L1709.1,1411.2 L1706.8,1411.2 L1706.8,1408 L1700.8,1408 L1700.8,1400 L1692.9,1400 L1692.9,1396.2 L1687.9,1396.2 L1687.9,1391 L1687.9,1391 L1687.9,1387.6 L1684.9,1387.6 L1684.9,1383.7 L1682.1,1383.7 L1682.1,1376.7 L1679.1,1376.7 L1679.1,1373.1 L1663.2,1373.1 L1663.2,1368.7 L1660.9,1368.7 L1660.9,1356.7 L1652.1,1356.7 L1652.1,1352.8 L1635.9,1352.8 L1635.9,1349.7 L1625.3,1349.7 L1625.3,1345.8 L1623,1345.8 L1623,1349.7 L1616.8,1349.7 L1616.8,1352.8 L1612.1,1352.8 L1612.1,1349.7 L1609.1,1349.7 L1609.1,1341.7 L1606.8,1341.7 L1606.8,1345.8 L1604.1,1345.8 L1604.1,1341.7 L1600.9,1341.7 L1600.9,1333.8 L1596.2,1333.8 L1596.2,1325.8 L1585.2,1325.8 L1585.2,1322.8 L1570.9,1322.8 L1570.9,1318.8 L1568.8,1318.8 L1568.8,1314.9 L1560,1314.9 L1560,1314.9 L1557.9,1314.9 L1557.9,1311 L1554.9,1311 L1554.9,1307.1 L1546.9,1307.1 L1546.9,1303.1 L1539,1303.1 L1539,1296 L1536,1296 L1536,1292.1 L1533.9,1292.1 L1533.9,1290.9 L1536.9,1290.9 L1536.9,1287.9 L1538.8,1287.9 L1538.8,1276.3 L1536,1276.3 L1536,1272.9 L1537.1,1272.9 L1537.1,1269 L1533,1269 L1533,1272 L1525.8,1272 L1525.8,1269 L1512.2,1269 L1512.2,1272 L1509,1272 L1509,1269 L1500.9,1269 L1500.9,1265.2 L1493.1,1265.2 L1493.1,1269 L1482.2,1269 L1482.2,1275.9 L1480.1,1275.9 L1480.1,1280 L1474.2,1280 L1474.2,1284 L1471.1,1284 L1471.1,1287.9 L1468.8,1287.9 L1468.8,1291.8 L1460.8,1291.8 L1460.8,1295.9 L1458.2,1295.9 L1458.2,1302.9 L1446.7,1302.9 L1446.7,1306.8 L1443.7,1306.8 L1443.7,1310.9 L1441.8,1310.9 L1441.8,1314.9 L1436.1,1314.9 L1436.1,1291.8 L1422.9,1291.8 L1422.9,1287.9 L1419.7,1287.9 L1419.7,1284 L1412.3,1284 L1412.3,1287.9 L1388,1287.9 L1388,1291.8 L1374,1291.8 L1374,1295.9 L1371.7,1295.9 L1371.7,1291.8 L1369.1,1291.8 L1369.1,1287.9 L1371.7,1287.9 L1371.7,1280 L1374,1280 L1374,1269 L1371.7,1269 L1371.7,1265 L1366.1,1265 L1366.1,1260.9 L1339.1,1260.9 L1339.1,1265 L1333.8,1265 L1333.8,1269 L1330.8,1269 L1330.8,1280 L1328,1280 L1328,1275.9 L1325.9,1275.9 L1325.9,1257 L1328,1257 L1328,1253.2 L1317,1253.2 L1317,1257 L1306.8,1257 L1306.8,1260.9 L1298.9,1260.9 L1298.9,1257 L1292.9,1257 L1292.9,1253.2 L1287.9,1253.2 L1287.9,1257 L1284.9,1257 L1284.9,1260.9 L1280,1260.9 L1280,1257 L1275.6,1257 L1275.6,1253.2 L1270.8,1253.2 L1270.8,1257 L1263.2,1257 L1263.2,1260.9 L1238.9,1260.9 L1238.9,1253.2 L1235.9,1253.2 L1235.9,1245 L1227.9,1245 L1227.9,1238 L1223,1238 L1223,1230 L1206.8,1230 L1206.8,1225.8 L1204.1,1225.8 L1204.1,1230 L1196.2,1230 L1196.2,1225.8 L1190,1225.8 L1190,1230 L1187.9,1230 L1187.9,1234.1 L1185.2,1234.1 L1185.2,1241.7 L1179.9,1241.7 L1179.9,1249.1 L1163.2,1249.1 L1163.2,1260.9 L1160,1260.9 L1160,1261.2 L1136.2,1261.2 L1136.2,1265.2 L1131.1,1265.2 L1131.1,1280 L1118.2,1280 L1118.2,1284.1 L1104.1,1284.1 L1104.1,1280 L1101.1,1280 L1101.1,1276.2 L1085,1276.2 L1085,1280 L1074.1,1280 L1074.1,1291.2 L1068.8,1291.2 L1068.8,1295.9 L1066.1,1295.9 L1066.1,1299.1 L1052.9,1299.1 L1052.9,1295.9 L1049.9,1295.9 L1049.9,1303 L1046.7,1303 L1046.7,1307 L1044.6,1307 L1044.6,1310.9 L1038.8,1310.9 L1038.8,1315 L1037,1315 L1037,1342 L1034,1342 L1034,1345.9 L1030.8,1345.9 L1030.8,1357 L1020.3,1357 L1020.3,1364.9 L1018,1364.9 L1018,1360.9 L1015,1360.9 L1015,1364.9 L1001.2,1364.9 L1001.2,1368.8 L990.8,1368.8 L990.8,1372.9 L988,1372.9 L988,1377.6 L985,1377.6 L985,1383.8 L988,1383.8 L988,1395.6 L974,1395.6 L974,1399.7 L971.7,1399.7 L971.7,1395.6 L963.8,1395.6 L963.8,1391.7 L958,1391.7 L958,1387.9 L955,1387.9 L955,1391.7 L947,1391.7 L947,1395.6 L944.9,1395.6 L944.9,1399.7 L941.7,1399.7 L941.7,1403.7 L933.8,1403.7 L933.8,1407.6 L930.8,1407.6 L930.8,1410.8 L917.9,1410.8 L917.9,1414.7 L914.9,1414.7 L914.9,1418.7 L912.1,1418.7 L912.1,1422.6 L884.9,1422.6 L884.9,1426.7 L869,1426.7 L869,1438 L865.9,1438 L865.9,1442 L864.1,1442 L864.1,1445.9 L857.9,1445.9 L857.9,1442 L850,1442 L850,1430.9 L844.7,1430.9 L844.7,1422.6 L841.5,1422.6 L841.5,1418.7 L834.1,1418.7 L834.1,1410.8 L836.8,1410.8 L836.8,1403.7 L838.9,1403.7 L838.9,1396.1 L826.2,1396.1 L826.2,1399.7 L823,1399.7 L823,1403.7 L815.1,1403.7 L815.1,1407.6 L812.1,1407.6 L812.1,1403.7 L800.9,1403.7 L800.9,1407.6 L793,1407.6 L793,1410.8 L787.9,1410.8 L787.9,1407.6 L785.2,1407.6 L785.2,1410.8 L777.1,1410.8 L777.1,1414.7 L766.2,1414.7 L766.2,1418.7 L760,1418.7 L760,1418.7 L738.8,1418.7 L738.8,1407.6 L730.8,1407.6 L730.8,1410.8 L718,1410.8 L718,1407.6 L710.2,1407.6 L710.2,1399.7 L707,1399.7 L707,1395.6 L696.1,1395.6 L696.1,1391.7 L692.9,1391.7 L692.9,1383.8 L685,1383.8 L685,1379.9 L682,1379.9 L682,1376.7 L679.7,1376.7 L679.7,1372.9 L677,1372.9 L677,1376.7 L666.1,1376.7 L666.1,1372.9 L658,1372.9 L658,1368.8 L655.9,1368.8 L655.9,1372.9 L637.3,1372.9 L637.3,1368.8 L633.8,1368.8 L633.8,1361.7 L636.4,1361.7 L636.4,1357.9 L633.8,1357.9 L633.8,1349.9 L625.9,1349.9 L625.9,1342 L620.2,1342 L620.2,1334 L617.9,1334 L617.9,1330 L614.9,1330 L614.9,1326.1 L612.1,1326.1 L612.1,1322 L610,1322 L610,1318.9 L606.8,1318.9 L606.8,1315 L598.9,1315 L598.9,1310.9 L602,1310.9 L602,1303 L604.2,1303 L604.2,1295.9 L606.8,1295.9 L606.8,1291.2 L610,1291.2 L610,1288 L612.1,1288 L612.1,1284.1 L614.9,1284.1 L614.9,1280 L610,1280 L610,1276.2 L606.8,1276.2 L606.8,1272.1 L602,1272.1 L602,1265.2 L598.9,1265.2 L598.9,1261.2 L595.9,1261.2 L595.9,1257.1 L592.9,1257.1 L592.9,1252.9 L592.9,1245.3 L590.9,1245.3 L590.9,1238.2 L595.9,1238.2 L595.9,1234.3 L602,1234.3 L602,1230.3 L604.2,1230.3 L604.2,1226.2 L612.1,1226.2 L612.1,1214.4 L614.9,1214.4 L614.9,1210.9 L617.9,1210.9 L617.9,1190.9 L620.2,1190.9 L620.2,1180 L619.9,1180 L625.9,1180 L625.9,1176 L629,1176 L629,1172.1 L642.1,1172.1 L642.1,1176 L647,1176 L647,1179.7 L655.8,1179.7 L655.8,1172.1 L653,1172.1 L653,1164.1 L644.9,1164.1 L644.9,1160.2 L641.9,1160.2 L641.9,1149 L638.9,1149 L638.9,1133 L637,1133 L637,1130 L637,1130 L639.1,1130 L639.1,1117.5 L641.7,1117.5 L641.7,1113.6 L636.4,1113.6 L636.4,1108.7 L633.8,1108.7 L633.8,1106 L625.9,1106 L625.9,1103 L617.9,1103 L617.9,1099 L610,1099 L610,1103 L606.8,1103 L606.8,1106 L590.9,1106 L590.9,1103 L587.9,1103 L587.9,1099 L583,1099 L583,1095.1 L577,1095.1 L577,1091 L574.7,1091 L574.7,1086.6 L569,1086.6 L569,1082.7 L557.9,1082.7 L557.9,1078.7 L560.9,1078.7 L560.9,1074.8 L557.9,1074.8 L557.9,1059.8 L560.9,1059.8 L560.9,1055.7 L557.9,1055.7 L557.9,1047.8 L556.2,1047.8 L556.2,1044.8 L557.9,1044.8 L557.9,1036.9 L553,1036.9 L553,1033.2 L547.9,1033.2 L547.9,1029.3 L534.1,1029.3 L534.1,1024.9 L528.8,1024.9 L528.8,1021 L523,1021 L523,1017.8 L515.1,1017.8 L515.1,1013.9 L512.1,1013.9 L512.1,1009.9 L506.8,1009.9 L506.8,1013.9 L504.1,1013.9 L504.1,1009.9 L501.8,1009.9 L501.8,1006 L498.8,1006 L498.8,998 L501.8,998 L501.8,994 L504.1,994 L504.1,986.9 L515.1,986.9 L515.1,991 L520,991 L520,994 L523,994 L523,991 L531.1,991 L531.1,986.9 L534.1,986.9 L534.1,983 L537.1,983 L537.1,979 L553,979 L553,983 L556.2,983 L556.2,979 L557.9,979 L557.9,975.1 L560.9,975.1 L560.9,971 L572,971 L572,975.1 L580,975.1 L580,979 L583,979 L583,983 L590.9,983 L590.9,986.9 L592.9,986.9 L592.9,983 L595.9,983 L595.9,979 L602,979 L602,971 L604.2,971 L604.2,967.2 L610,967.2 L610,964 L612.1,964 L612.1,960.1 L610,960.1 L610,952 L606.8,952 L606.8,956 L602,956 L602,952 L598.9,952 L598.9,948.1 L592.9,948.1 L592.9,944.1 L590.9,944.1 L590.9,940.2 L592.9,940.2 L592.9,936.1 L598.9,936.1 L598.9,933.1 L602,933.1 L602,929.1 L620.2,929.1 L620.2,925.2 L628.9,925.2 L628.9,929.1 L630.8,929.1 L630.8,933.1 L632.9,933.1 L632.9,936.1 L637.3,936.1 L637.3,940.2 L647,940.2 L647,944.1 L655.9,944.1 L655.9,948.1 L658,948.1 L658,940.2 L663.8,940.2 L663.8,933.1 L671.7,933.1 L671.7,925.2 L674,925.2 L674,921.1 L671.7,921.1 L671.7,908.9 L669.1,908.9 L669.1,902.2 L671.7,902.2 L671.7,898.2 L674,898.2 L674,894.3 L677,894.3 L677,889 L677,889 L677,885.6 L679.7,885.6 L679.7,881.7 L682.7,881.7 L682.7,874.7 L685,874.7 L685,870.6 L688,870.6 L688,866.7 L685,866.7 L685,862.7 L679.7,862.7 L679.7,858.8 L671.7,858.8 L671.7,854.7 L666.1,854.7 L666.1,851.7 L663.8,851.7 L663.8,843.8 L666.1,843.8 L666.1,839.7 L660.8,839.7 L660.8,835.8 L650,835.8 L650,827.9 L644.9,827.9 L644.9,824.7 L637,824.7 L637,820.8 L633.8,820.8 L633.8,811.1 L636.4,811.1 L636.4,807.1 L633.8,807.1 L633.8,793.9 L628.9,793.9 L628.9,770 L633.8,770 L633.8,763 L625.9,763 L625.9,758.9 L623.2,758.9 L623.2,763 L614.9,763 L614.9,758.9 L610,758.9 L610,755 L602,755 L602,751.2 L595.9,751.2 L595.9,747.1 L587.9,747.1 L587.9,740 L584.9,740 L584.9,736 L583,736 L583,732.1 L580,732.1 L580,723.8 L577,723.8 L577,709.2 L574.7,709.2 L574.7,704.7 L577,704.7 L577,686.2 L580,686.2 L580,681.8 L584.9,681.8 L584.9,677.9 L590.9,677.9 L590.9,681.8 L595.9,681.8 L595.9,677.9 L610,677.9 L610,673.9 L617.9,673.9 L617.9,669.8 L628.9,669.8 L628.9,665.9 L633.8,665.9 L633.8,662.4 L637,662.4 L637,650.9 L639.1,650.9 L639.1,647.1 L652.9,647.1 L652.9,650.9 L655.9,650.9 L655.9,655 L660.8,655 L660.8,658.9 L663.8,658.9 L663.8,662.4 L666.1,662.4 L666.1,669.8 L663.8,669.8 L663.8,673.9 L671.7,673.9 L671.7,669.8 L674,669.8 L674,665.9 L679.7,665.9 L679.7,661.9 L685,661.9 L685,665.9 L688,665.9 L688,669.8 L696.1,669.8 L696.1,662.4 L701.2,662.4 L701.2,658.9 L704,658.9 L704,655 L718,655 L718,650.9 L719.7,650.9 L719.7,647.1 L722.9,647.1 L722.9,635.1 L725.9,635.1 L725.9,643 L728.7,643 L728.7,647.1 L741.8,647.1 L741.8,655 L755.9,655 L755.9,650.9 L760.8,650.9 L760.8,647.1 L763.8,647.1 L763.8,643 L768.8,643 L768.8,639.1 L777.1,639.1 L777.1,628 L791.4,628 L791.4,631 L795.8,631 L795.8,624.1 L798.8,624.1 L798.8,615.6 L809.9,615.6 L809.9,624.1 L812,624.1 L812,628 L814.7,628 L814.7,624.1 L827.9,624.1 L827.9,620.1 L834.1,620.1 L834.1,624.1 L837.1,624.1 L837.1,628 L845,628 L845,631 L847.3,631 L847.3,639.1 L849.9,639.1 L849.9,643 L854.9,643 L854.9,639.1 L860,639.1 L860,639 L869,639 L869,642.9 L874.2,642.9 L874.2,646.8 L880,646.8 L880,642.9 L883,642.9 L883,646.8 L892.9,646.8 L892.9,642.9 L895.9,642.9 L895.9,624 L898.9,624 L898.9,620 L900.8,620 L900.8,615.9 L904.2,615.9 L904.2,612 L912.1,612 L912.1,608 L917.9,608 L917.9,612 L930.8,612 L930.8,604.1 L937,604.1 L937,596.7 L939.1,596.7 L939.1,592.6 L941.9,592.6 L941.9,581Z" fill="#f7f7f7"/>
<g clip-path="url(#landclip)">
<path d="M1058,477 1060.8,477 1060.8,481.1 1063.8,481.1 1063.8,485 1066.1,485 1066.1,489 1055,489 1055,485 1058,485ZM1077,477 1085,477 1085,489 1080,489 1080,485 1077,485ZM1747,566.1 1750,566.1 1750,569.7 1747,569.7ZM1752.1,566.1 1754.9,566.1 1754.9,576.7 1752.1,576.7ZM1747,577.3 1750,577.3 1750,581 1747,581ZM1747,581 1750,581 1750,584.5 1747,584.5ZM1790,696.9 1798,696.9 1798,693 1800.8,693 1800.8,696.9 1798,696.9 1798,708.9 1795.9,708.9 1795.9,716 1792.9,716 1792.9,712.5 1790,712.5 1790,708.4 1784.9,708.4 1784.9,705.4 1787.9,705.4 1787.9,701 1790,701ZM1735.9,801 1741.5,801 1741.5,805.1 1743.8,805.1 1743.8,812.7 1738.9,812.7 1738.9,808.6 1735.9,808.6ZM1574.1,1133 1577.1,1133 1577.1,1149.1 1574.1,1149.1 1574.1,1145 1570.9,1145 1570.9,1141.1 1574.1,1141.1ZM1563.2,1149.1 1566.2,1149.1 1566.2,1152.9 1563.2,1152.9ZM1568.8,1149.1 1570.9,1149.1 1570.9,1152.9 1568.8,1152.9ZM1560,1157 1563.2,1157 1563.2,1160 1560,1160ZM1638.5,1100 1642,1100 1642,1102.6 1638.5,1102.6ZM1587.9,1186.8 1590,1186.8 1590,1194.9 1587.9,1194.9ZM1582.1,1194.9 1590,1194.9 1590,1198.8 1582.1,1198.8ZM1566.2,1198.8 1568.8,1198.8 1568.8,1202.9 1566.2,1202.9ZM1563.2,1202.9 1568.8,1202.9 1568.8,1206.7 1563.2,1206.7ZM1728,1284 1730.8,1284 1730.8,1287.9 1728,1287.9ZM1712.1,1302.9 1717,1302.9 1717,1306.8 1712.1,1306.8ZM1600.9,1163.9 1604.1,1163.9 1604.1,1167.9 1606.8,1167.9 1606.8,1175.9 1612.1,1175.9 1612.1,1171.8 1615.1,1171.8 1615.1,1175.9 1612.1,1175.9 1612.1,1179.9 1615.1,1179.9 1615.1,1186.8 1620,1186.8 1620,1194.9 1616.8,1194.9 1616.8,1198.8 1615.1,1198.8 1615.1,1194.9 1604.1,1194.9 1604.1,1191 1606.8,1191 1606.8,1186.8 1596.2,1186.8 1596.2,1179.9 1593,1179.9 1593,1183.8 1587.9,1183.8 1587.9,1175.9 1590,1175.9 1590,1167.9 1600.9,1167.9ZM1782,1253.2 1787.1,1253.2 1787.1,1257 1792.9,1257 1792.9,1260.9 1785,1260.9 1785,1269 1782,1269ZM1074.2,608 1077,608 1077,623.3 1074.2,623.3 1074.2,639.2 1080,639.2 1080,642.8 1074.2,642.8 1074.2,647.2 1072,647.2 1072,650.7 1057.9,650.7 1057.9,654.8 1055.3,654.8 1055.3,650.7 1053,650.7 1053,642.8 1047,642.8 1047,639.2 1055.3,639.2 1055.3,635.3 1057.9,635.3 1057.9,630.9 1060.9,630.9 1060.9,620.2 1072,620.2 1072,616.3 1074.2,616.3ZM1095.9,623.9 1098.9,623.9 1098.9,627.8 1095.9,627.8ZM1104.2,639.2 1106.8,639.2 1106.8,642.8 1104.2,642.8ZM1263.1,785.7 1266.1,785.7 1266.1,789.7 1263.1,789.7ZM1055.3,805.1 1060.9,805.1 1060.9,808.6 1055.3,808.6ZM1055.3,808.6 1057.9,808.6 1057.9,812.7 1055.3,812.7ZM1207,828 1211.8,828 1211.8,831.6 1207,831.6ZM1287.8,821 1290,821 1290,831.6 1287.8,831.6ZM1260.8,840 1266.1,840 1266.1,843.9 1260.8,843.9ZM1263.1,843.9 1266.1,843.9 1266.1,847.4 1263.1,847.4ZM1257.8,851.8 1260.8,851.8 1260.8,855.7 1257.8,855.7ZM1260.8,855.7 1263.1,855.7 1263.1,858.9 1260.8,858.9ZM1263.1,858.9 1268.8,858.9 1268.8,862.8 1263.1,862.8ZM1155,867.7 1160.8,867.7 1160.8,872 1155,872ZM1169.1,867.7 1177,867.7 1177,872 1169.1,872ZM1117.9,647.2 1130.8,647.2 1130.8,650.7 1128,650.7 1128,655.1 1130.8,655.1 1130.8,659.2 1141.7,659.2 1141.7,674.2 1147,674.2 1147,670.1 1152.9,670.1 1152.9,666.2 1160.8,666.2 1160.8,670.1 1174,670.1 1174,701 1177,701 1177,705 1182,705 1182,719.9 1180,719.9 1180,716 1171.7,716 1171.7,712.5 1169.1,712.5 1169.1,705 1160.8,705 1160.8,701 1158,701 1158,705 1155,705 1155,701 1147,701 1147,705 1141.7,705 1141.7,708.9 1136.1,708.9 1136.1,713 1133.8,713 1133.8,716.9 1136.1,716.9 1136.1,727.8 1133.8,727.8 1133.8,731.9 1109.1,731.9 1109.1,735.9 1106.8,735.9 1106.8,739.8 1100.8,739.8 1100.8,735.9 1098.9,735.9 1098.9,731.9 1092.9,731.9 1092.9,735.9 1090.9,735.9 1090.9,723.9 1087.9,723.9 1087.9,719.9 1084.9,719.9 1084.9,713 1090.9,713 1090.9,708.9 1092.9,708.9 1092.9,701 1095.9,701 1095.9,693 1098.9,693 1098.9,686 1104.2,686 1104.2,677.7 1106.8,677.7 1106.8,670.1 1104.2,670.1 1104.2,666.2 1112.1,666.2 1112.1,655.1 1114.9,655.1 1114.9,650.7 1117.9,650.7ZM1060.9,716 1065.9,716 1065.9,739.8 1060.9,739.8 1060.9,743 1055.3,743 1055.3,746.9 1050,746.9 1050,743 1047,743 1047,739.8 1038.9,739.8 1038.9,731.9 1042,731.9 1042,727.8 1047,727.8 1047,723.9 1053,723.9 1053,719.9 1060.9,719.9ZM1208.8,735.9 1211.8,735.9 1211.8,739.8 1225.9,739.8 1225.9,743 1228.2,743 1228.2,750.9 1230.8,750.9 1230.8,758.9 1234,758.9 1234,766.8 1238.8,766.8 1238.8,778.6 1241.8,778.6 1241.8,781.8 1238.8,781.8 1238.8,785.7 1244.6,785.7 1244.6,789.7 1238.8,789.7 1238.8,785.7 1236.1,785.7 1236.1,781.8 1230.8,781.8 1230.8,777.7 1228.2,777.7 1228.2,769.8 1225.9,769.8 1225.9,773.9 1222.9,773.9 1222.9,769.8 1215,769.8 1215,766.8 1211.8,766.8 1211.8,758.9 1207,758.9 1207,750.9 1201.2,750.9 1201.2,746.9 1207,746.9 1207,739.8 1208.8,739.8ZM1287.8,781.8 1290,781.8 1290,785.7 1295.8,785.7 1295.8,800.7 1290,800.7 1290,796.6 1287.8,796.6ZM1282,801 1285,801 1285,805.1 1290,805.1 1290,812.7 1282,812.7ZM1171.7,813 1174,813 1174,816.6 1180,816.6 1180,831.6 1171.7,831.6 1171.7,827.1 1169.1,827.1 1169.1,816.6 1171.7,816.6ZM1246.7,821 1257.8,821 1257.8,827.1 1254.7,827.1 1254.7,831.6 1244.6,831.6 1244.6,827.1 1246.7,827.1ZM1201.2,828 1204,828 1204,836 1207,836 1207,840 1208.8,840 1208.8,843.9 1211.8,843.9 1211.8,858.9 1215,858.9 1215,872 1207,872 1207,840 1201.2,840 1201.2,836 1199.1,836 1199.1,831.6 1201.2,831.6ZM1295.8,805.1 1298.8,805.1 1298.8,808.6 1301.1,808.6 1301.1,812.7 1309,812.7 1309,808.6 1312,808.6 1312,805.1 1316.9,805.1 1316.9,812.7 1314.7,812.7 1314.7,825 1327.9,825 1327.9,843.9 1322.9,843.9 1322.9,847.8 1339,847.8 1339,851.8 1342,851.8 1342,855.7 1347.3,855.7 1347.3,862.8 1349.9,862.8 1349.9,858.9 1360,858.9 1360,872 1282,872 1282,863.3 1285,863.3 1285,866.8 1304.1,866.8 1304.1,859.8 1306.7,859.8 1306.7,851.8 1304.1,851.8 1304.1,847.8 1306.7,847.8 1306.7,843.9 1301.1,843.9 1301.1,840 1309,840 1309,821 1304.1,821 1304.1,816.6 1295.8,816.6ZM1417,781.8 1420,781.8 1420,785.7 1417,785.7ZM1368.8,847.8 1372,847.8 1372,858.9 1377.1,858.9 1377.1,862.8 1374.1,862.8 1374.1,867.7 1368.8,867.7 1368.8,872 1360,872 1360,855 1366.2,855 1366.2,851.8 1368.8,851.8ZM1152.9,872 1160.8,872 1160.8,894.1 1162.9,894.1 1162.9,902 1158,902 1158,909.1 1160.8,909.1 1160.8,917 1158,917 1158,929 1155,929 1155,932.9 1150,932.9 1150,913.1 1147,913.1 1147,917 1144.9,917 1144.9,921.1 1139.1,921.1 1139.1,929 1136.1,929 1136.1,913.1 1141.7,913.1 1141.7,906.1 1139.1,906.1 1139.1,902 1136.1,902 1136.1,889.6 1139.1,889.6 1139.1,886.1 1147,886.1 1147,881.7 1150,881.7 1150,874.6 1152.9,874.6ZM1130.8,921.1 1133.8,921.1 1133.8,924.9 1130.8,924.9ZM979.9,924.9 982.1,924.9 982.1,929 979.9,929ZM1141.7,966.9 1144.9,966.9 1144.9,970.8 1141.7,970.8ZM1174,1021.1 1180,1021.1 1180,1025.2 1174,1025.2ZM1188,921.1 1189.9,921.1 1189.9,924.9 1188,924.9ZM1211.8,932.9 1215,932.9 1215,935.9 1211.8,935.9ZM1055.3,1113.7 1057.9,1113.7 1057.9,1117.8 1055.3,1117.8ZM1263.1,1113.7 1268.8,1113.7 1268.8,1117.8 1263.1,1117.8ZM1188,1132.8 1189.9,1132.8 1189.9,1140.7 1188,1140.7ZM1268.8,1132.8 1271.1,1132.8 1271.1,1140.7 1268.8,1140.7ZM1295.8,1148.7 1304.1,1148.7 1304.1,1152.5 1295.8,1152.5ZM1285,1158.7 1295.8,1158.7 1295.8,1163 1285,1163ZM1123.2,932.9 1136.1,932.9 1136.1,959.9 1125.9,959.9 1125.9,947.9 1123.2,947.9ZM964.1,902 966.2,902 966.2,906.1 979.9,906.1 979.9,909.1 982.1,909.1 982.1,913.1 974.1,913.1 974.1,917 972,917 972,913.1 968.8,913.1 968.8,921.1 966.2,921.1 966.2,924.9 964.1,924.9ZM987.9,921.1 993,921.1 993,924.9 991.2,924.9 991.2,932.9 987.9,932.9ZM966.2,939.9 968.8,939.9 968.8,943.8 972,943.8 972,947.9 974.1,947.9 974.1,951.9 960,951.9 960,947.9 964.1,947.9 964.1,943.8 966.2,943.8ZM1169.1,947.9 1171.7,947.9 1171.7,951.9 1174,951.9 1174,966.9 1169.1,966.9 1169.1,987 1174,987 1174,991.1 1171.7,991.1 1171.7,994.1 1169.1,994.1 1169.1,1002 1166.1,1002 1166.1,997.8 1162.9,997.8 1162.9,994.1 1150,994.1 1150,991.1 1152.9,991.1 1152.9,987 1155,987 1155,982.8 1158,982.8 1158,978.7 1160.8,978.7 1160.8,974.9 1162.9,974.9 1162.9,966.9 1166.1,966.9 1166.1,959.9 1169.1,959.9ZM1166.1,1006.1 1169.1,1006.1 1169.1,1017.9 1171.7,1017.9 1171.7,1021.1 1166.1,1021.1ZM1192.9,1010 1196.1,1010 1196.1,1013.7 1207,1013.7 1207,1021.1 1211.8,1021.1 1211.8,1025.2 1208.8,1025.2 1208.8,1029 1207,1029 1207,1025.2 1201.2,1025.2 1201.2,1029 1192.9,1029 1192.9,1025.2 1182,1025.2 1182,1017.9 1185,1017.9 1185,1013.7 1192.9,1013.7ZM1133.8,1025.2 1139.1,1025.2 1139.1,1029 1141.7,1029 1141.7,1032.9 1147,1032.9 1147,1041 1136.1,1041 1136.1,1044.9 1125.9,1044.9 1125.9,1047.9 1123.2,1047.9 1123.2,1044.9 1117.9,1044.9 1117.9,1032.9 1120.2,1032.9 1120.2,1029 1133.8,1029ZM1084.9,1032.9 1087.9,1032.9 1087.9,1041 1081.7,1041 1081.7,1047.9 1080,1047.9 1080,1056 1077,1056 1077,1047.9 1074.2,1047.9 1074.2,1041 1072,1041 1072,1037 1080,1037 1080,1035.2 1084.9,1035.2ZM1095.9,1037 1098.9,1037 1098.9,1041 1092.9,1041 1092.9,1047.9 1090.9,1047.9 1090.9,1044.9 1087.9,1044.9 1087.9,1041 1095.9,1041ZM1057.9,1041.9 1060.9,1041.9 1060.9,1047.9 1065.9,1047.9 1065.9,1059.9 1057.9,1059.9 1057.9,1056 1055.3,1056 1055.3,1067.9 1053,1067.9 1053,1044.9 1057.9,1044.9ZM1174,1059.9 1180,1059.9 1180,1064.9 1182,1064.9 1182,1067.9 1188,1067.9 1188,1063.8 1192.9,1063.8 1192.9,1059.9 1201.2,1059.9 1201.2,1071.9 1196.1,1071.9 1196.1,1078.8 1192.9,1078.8 1192.9,1086.9 1188,1086.9 1188,1082.9 1185,1082.9 1185,1078.8 1180,1078.8 1180,1074.9 1174,1074.9ZM1222.9,1037 1225.9,1037 1225.9,1041 1230.8,1041 1230.8,1044.9 1234,1044.9 1234,1047.9 1236.1,1047.9 1236.1,1052 1238.8,1052 1238.8,1059.9 1252.9,1059.9 1252.9,1056 1263.1,1056 1263.1,1063.8 1258.2,1063.8 1258.2,1067.9 1244.6,1067.9 1244.6,1078.8 1241.8,1078.8 1241.8,1082.9 1238.8,1082.9 1238.8,1090.8 1236.1,1090.8 1236.1,1098.7 1234,1098.7 1234,1094.8 1225.9,1094.8 1225.9,1102.8 1220.3,1102.8 1220.3,1086.9 1218,1086.9 1218,1078.8 1215,1078.8 1215,1071.9 1218,1071.9 1218,1074.9 1220.3,1074.9 1220.3,1071.9 1225.9,1071.9 1225.9,1067.9 1215,1067.9 1215,1059.9 1208.8,1059.9 1208.8,1044.9 1211.8,1044.9 1211.8,1041 1222.9,1041ZM1277.1,1047.9 1279.9,1047.9 1279.9,1052 1282,1052 1282,1056 1287.8,1056 1287.8,1059.9 1293,1059.9 1293,1063.8 1295.8,1063.8 1295.8,1067.9 1304.1,1067.9 1304.1,1071.9 1309,1071.9 1309,1074.9 1314.7,1074.9 1314.7,1071.9 1319.9,1071.9 1319.9,1074.9 1327.9,1074.9 1327.9,1082.9 1334.1,1082.9 1334.1,1086.9 1327.9,1086.9 1327.9,1082.9 1319.9,1082.9 1319.9,1086.9 1295.8,1086.9 1295.8,1098.7 1293,1098.7 1293,1094.8 1290,1094.8 1290,1086.9 1282,1086.9 1282,1102.8 1285,1102.8 1285,1113.7 1279.9,1113.7 1279.9,1117.8 1277.1,1117.8 1277.1,1121.7 1274.1,1121.7 1274.1,1117.8 1268.8,1117.8 1268.8,1102.8 1271.1,1102.8 1271.1,1094.8 1268.8,1094.8 1268.8,1082.9 1271.1,1082.9 1271.1,1074.9 1268.8,1074.9 1268.8,1059.9 1271.1,1059.9 1271.1,1056 1274.1,1056 1274.1,1052 1277.1,1052ZM1309,1052 1314.7,1052 1314.7,1059.9 1309,1059.9 1309,1067.9 1304.1,1067.9 1304.1,1059.9 1309,1059.9ZM1211.8,872 1236.1,872 1236.1,879.9 1228.2,879.9 1228.2,886.1 1219.7,886.1 1219.7,889.6 1218,889.6 1218,894.1 1211.8,894.1 1211.8,886.1 1207,886.1 1207,879.1 1211.8,879.1ZM1282,872 1304.1,872 1304.1,874.6 1298.8,874.6 1298.8,878.7 1295.8,878.7 1295.8,881.7 1290,881.7 1290,886.1 1287.8,886.1 1287.8,881.7 1285,881.7 1285,874.6 1282,874.6ZM1282,886.1 1285,886.1 1285,889.6 1290,889.6 1290,894.1 1295.8,894.1 1295.8,906.1 1293,906.1 1293,902 1287.8,902 1287.8,898.1 1282,898.1 1282,894.1 1279.9,894.1 1279.9,889.6 1282,889.6ZM1301.1,906.1 1309,906.1 1309,913.1 1312,913.1 1312,921.1 1314.7,921.1 1314.7,924.9 1319.9,924.9 1319.9,929 1322.9,929 1322.9,932.9 1316.9,932.9 1316.9,939.9 1314.7,939.9 1314.7,932.9 1309,932.9 1309,929 1304.1,929 1304.1,924.9 1301.1,924.9 1301.1,921.1 1298.8,921.1 1298.8,913.1 1301.1,913.1ZM1293,921.1 1295.8,921.1 1295.8,947.9 1290,947.9 1290,951.9 1287.8,951.9 1287.8,939.9 1285,939.9 1285,929 1287.8,929 1287.8,924.9 1293,924.9ZM1319.9,872 1342,872 1342,878.7 1344.1,878.7 1344.1,889.6 1342,889.6 1342,898.1 1336.2,898.1 1336.2,913.1 1331.1,913.1 1331.1,917 1319.9,917 1319.9,913.1 1314.7,913.1 1314.7,902 1319.9,902 1319.9,898.1 1327.9,898.1 1327.9,894.1 1326.1,894.1 1326.1,889.6 1327.9,889.6 1327.9,881.7 1326.1,881.7 1326.1,875.5 1319.9,875.5ZM1349.9,875.5 1360,875.5 1360,906.1 1352.9,906.1 1352.9,886.1 1349.9,886.1ZM1192.9,924.9 1199.1,924.9 1199.1,932.9 1192.9,932.9 1192.9,939.9 1188,939.9 1188,936.4 1189.9,936.4 1189.9,932.9 1192.9,932.9ZM960,1071.9 964.1,1071.9 964.1,1078.8 961.4,1078.8 961.4,1082.9 960,1082.9ZM960,1086.9 966.2,1086.9 966.2,1102.8 968.8,1102.8 968.8,1113.7 966.2,1113.7 966.2,1117.8 964.1,1117.8 964.1,1121.7 974.1,1121.7 974.1,1117.8 977.1,1117.8 977.1,1121.7 985.2,1121.7 985.2,1125.7 996.2,1125.7 996.2,1121.7 1000.9,1121.7 1000.9,1130 1009.1,1130 1009.1,1144.6 1006.8,1144.6 1006.8,1148.7 996.2,1148.7 996.2,1163 960,1163ZM1050,1094.8 1053,1094.8 1053,1113.7 1047,1113.7 1047,1117.8 1042,1117.8 1042,1105.8 1038.9,1105.8 1038.9,1098.7 1050,1098.7ZM1020,1140.7 1031.1,1140.7 1031.1,1144.6 1027.9,1144.6 1027.9,1148.7 1026.2,1148.7 1026.2,1144.6 1020,1144.6ZM1238.8,1102.8 1249.9,1102.8 1249.9,1098.7 1252.9,1098.7 1252.9,1102.8 1254.7,1102.8 1254.7,1109.8 1258.2,1109.8 1258.2,1113.7 1260.8,1113.7 1260.8,1117.8 1252.9,1117.8 1252.9,1113.7 1241.8,1113.7 1241.8,1105.8 1238.8,1105.8ZM1188,1113.7 1192.9,1113.7 1192.9,1117.8 1189.9,1117.8 1189.9,1121.7 1188,1121.7ZM1199.1,1140.7 1207,1140.7 1207,1148.7 1204,1148.7 1204,1144.6 1199.1,1144.6ZM1268.8,1152.5 1272,1152.5 1272,1158.7 1266.1,1158.7 1266.1,1163 1263.5,1163 1263.5,1158.7 1266.1,1158.7 1266.1,1156.1 1268.8,1156.1ZM1315,948.3 1322.8,948.3 1322.8,952.1 1334,952.1 1334,960 1341.9,960 1341.9,956 1344,956 1344,952.1 1361.2,952.1 1361.2,948.3 1363.1,948.3 1363.1,952.1 1366.2,952.1 1366.2,948.3 1372.1,948.3 1372.1,952.1 1374,952.1 1374,956 1377.1,956 1377.1,960 1382,960 1382,967 1385.3,967 1385.3,964.1 1389.9,964.1 1389.9,960 1399.1,960 1399.1,952.1 1396.1,952.1 1396.1,948.3 1393,948.3 1393,940.1 1409,940.1 1409,948.3 1412.1,948.3 1412.1,956 1415.2,956 1415.2,960 1417,960 1417,948.3 1420.2,948.3 1420.2,944 1423.1,944 1423.1,933.1 1425.8,933.1 1425.8,948.3 1427.9,948.3 1427.9,952.1 1430.9,952.1 1430.9,960 1434,960 1434,964.1 1435.8,964.1 1435.8,970.9 1434,970.9 1434,978.9 1430.9,978.9 1430.9,970.9 1427.9,970.9 1427.9,960 1423.1,960 1423.1,978.9 1417,978.9 1417,987.1 1415.2,987.1 1415.2,990.6 1417,990.6 1417,993.9 1420.2,993.9 1420.2,997.7 1423.1,997.7 1423.1,1005.9 1425.8,1005.9 1425.8,1014 1427.9,1014 1427.9,1021 1430.9,1021 1430.9,1010 1434,1010 1434,1005.9 1435.8,1005.9 1435.8,1010 1438.9,1010 1438.9,1014 1442.1,1014 1442.1,1017.9 1447,1017.9 1447,1021 1453.1,1021 1453.1,1025 1454.9,1025 1454.9,1033 1463,1033 1463,1037 1461.1,1037 1461.1,1041.1 1466.1,1041.1 1466.1,1048.1 1480.2,1048.1 1480.2,1045 1488.1,1045 1488.1,1048.1 1493.1,1048.1 1493.1,1052.1 1498,1052.1 1498,1068.1 1503.9,1068.1 1503.9,1072.2 1512,1072.2 1512,1075.1 1508.9,1075.1 1508.9,1078.9 1512,1078.9 1512,1087.1 1515,1087.1 1515,1083.2 1516.9,1083.2 1516.9,1087.1 1519.9,1087.1 1519.9,1103 1516.9,1103 1516.9,1106.1 1519.9,1106.1 1519.9,1133.1 1523,1133.1 1523,1130.1 1526.1,1130.1 1526.1,1133.1 1534,1133.1 1534,1137.2 1538.8,1137.2 1538.8,1145.1 1542.1,1145.1 1542.1,1141.1 1543.9,1141.1 1543.9,1149.2 1542.1,1149.2 1542.1,1153 1296,1153 1296,1149.2 1309,1149.2 1309,1130.1 1306.8,1130.1 1306.8,1113.6 1301.2,1113.6 1301.2,1095.2 1304,1095.2 1304,1099.1 1306.8,1099.1 1306.8,1095.2 1309,1095.2 1309,1087.1 1328,1087.1 1334,1087.1 1334,1083.2 1341.9,1083.2 1341.9,1068.1 1338.9,1068.1 1338.9,1060.2 1336.1,1060.2 1336.1,1052.1 1334,1052.1 1334,1048.1 1336.1,1048.1 1336.1,1045 1338.9,1045 1338.9,1033 1334,1033 1334,1029.1 1325.9,1029.1 1325.9,1033 1320,1033 1320,1029.1 1322.8,1029.1 1322.8,1021 1325.9,1021 1325.9,1014 1330.9,1014 1330.9,1010 1334,1010 1334,1005.9 1328,1005.9 1328,1001.9 1322.8,1001.9 1322.8,997.7 1320,997.7 1320,993.9 1315,993.9 1315,987.1 1312.1,987.1 1312.1,982.9 1309,982.9 1309,970.9 1315,970.9 1315,960 1322.8,960 1322.8,956 1317,956 1317,952.1 1315,952.1ZM1412.1,924.9 1417,924.9 1417,933.1 1404,933.1 1404,929.2 1412.1,929.2ZM1516.9,944 1519.9,944 1519.9,948.3 1516.9,948.3ZM1435.8,975.1 1438.9,975.1 1438.9,978.9 1435.8,978.9ZM1442.1,982.9 1443.9,982.9 1443.9,987.1 1442.1,987.1ZM1443.9,987.1 1447,987.1 1447,990.6 1443.9,990.6ZM1563.3,1149.2 1565.4,1149.2 1565.4,1153 1563.3,1153ZM1568.9,1149.2 1571,1149.2 1571,1153 1568.9,1153ZM1574.6,1133.1 1576.7,1133.1 1576.7,1149.2 1573.9,1149.2 1573.9,1145.1 1571,1145.1 1571,1141.1 1574.6,1141.1ZM1315,1153 1469,1153 1469,1155.8 1474,1155.8 1474,1176 1471,1176 1471,1179.8 1469,1179.8 1469,1190.9 1466.1,1190.9 1466.1,1195 1461.1,1195 1461.1,1221.8 1454.9,1221.8 1454.9,1244.8 1458,1244.8 1458,1253 1461.1,1253 1461.1,1257.1 1458,1257.1 1458,1261.1 1454.9,1261.1 1454.9,1272.1 1458,1272.1 1458,1280.2 1454.9,1280.2 1454.9,1287.9 1461.1,1287.9 1461.1,1292.2 1458,1292.2 1458,1315.5 1435.8,1315.5 1435.8,1294.3 1369,1294.3 1369,1287.9 1372.1,1287.9 1372.1,1280.2 1374,1280.2 1374,1269.1 1372.1,1269.1 1372.1,1263.2 1328,1263.2 1328,1280.2 1325.9,1280.2 1325.9,1253 1328,1253 1328,1244.8 1325.9,1244.8 1325.9,1241.7 1322.8,1241.7 1322.8,1186.9 1317,1186.9 1317,1184.1 1315,1184.1ZM1280,1176 1284.9,1176 1284.9,1160.1 1289.9,1160.1 1289.9,1157 1296,1157 1296,1168 1301.2,1168 1301.2,1172.1 1309,1172.1 1309,1176 1315,1176 1315,1241.7 1306.8,1241.7 1306.8,1237.8 1304,1237.8 1304,1230 1301.2,1230 1301.2,1225.8 1296,1225.8 1296,1230 1293,1230 1293,1237.8 1289.9,1237.8 1289.9,1241.7 1288.1,1241.7 1288.1,1233.8 1280,1233.8 1280,1225.8 1282.1,1225.8 1282.1,1210.9 1280,1210.9ZM1482,1153 1542.1,1153 1542.1,1157.9 1538.8,1157.9 1538.8,1164 1543.9,1164 1543.9,1160.1 1553.1,1160.1 1553.1,1186.9 1547,1186.9 1547,1190.9 1543.9,1190.9 1543.9,1183 1538.8,1183 1538.8,1176 1530.8,1176 1530.8,1179.8 1527.2,1179.8 1527.2,1176 1508.9,1176 1508.9,1179.8 1507,1179.8 1507,1184.1 1503.9,1184.1 1503.9,1186.9 1498,1186.9 1498,1184.1 1496.2,1184.1 1496.2,1186.9 1493.1,1186.9 1493.1,1195 1490.1,1195 1490.1,1198.9 1488.1,1198.9 1488.1,1195 1485.1,1195 1485.1,1186.9 1488.1,1186.9 1488.1,1179.8 1485.1,1179.8 1485.1,1184.1 1482,1184.1 1482,1176 1485.1,1176 1485.1,1160.1 1482,1160.1ZM1558.3,1157 1563.3,1157 1563.3,1160.1 1558.3,1160.1ZM1590.1,1168 1600,1168 1600,1186.9 1596.2,1186.9 1596.2,1183 1593.2,1183 1593.2,1179.8 1590.1,1179.8 1590.1,1184.1 1588,1184.1 1588,1176 1590.1,1176ZM1588,1186.9 1590.1,1186.9 1590.1,1198.9 1582.3,1198.9 1582.3,1195 1588,1195ZM1566.1,1198.9 1568.9,1198.9 1568.9,1207 1563.3,1207 1563.3,1203.2 1566.1,1203.2ZM1488.1,1207 1490.1,1207 1490.1,1210.9 1493.1,1210.9 1493.1,1213.8 1498,1213.8 1498,1221.8 1488.1,1221.8ZM1480.2,1203.2 1482,1203.2 1482,1213.8 1480.2,1213.8 1480.2,1210.9 1477.1,1210.9 1477.1,1207 1480.2,1207ZM812.1,1000 828,1000 828,1004 825.9,1004 825.9,1018.1 831.1,1018.1 831.1,1025.1 837.2,1025.1 837.2,1029 839.2,1029 839.2,1025.1 842,1025.1 842,1021.2 845.3,1021.2 845.3,1025.1 850.2,1025.1 850.2,1029 855.1,1029 855.1,1037 853,1037 853,1041 850.2,1041 850.2,1052 847.1,1052 847.1,1055.8 845.3,1055.8 845.3,1064 842,1064 842,1074.9 839.2,1074.9 839.2,1078.8 837.2,1078.8 837.2,1082.9 834,1082.9 834,1086.9 831.1,1086.9 831.1,1090.8 828,1090.8 828,1086.9 825.9,1086.9 825.9,1074.9 818.1,1074.9 818.1,1086.9 823.1,1086.9 823.1,1094.9 828,1094.9 828,1098.9 831.1,1098.9 831.1,1113.7 828,1113.7 828,1109.9 823.1,1109.9 823.1,1106 820.1,1106 820.1,1094.9 818.1,1094.9 818.1,1102.9 814.9,1102.9 814.9,1106 812.1,1106 812.1,1113.7 807.1,1113.7 807.1,1106 804,1106 804,1090.8 801,1090.8 801,1082.9 799.1,1082.9 799.1,1068.1 809.9,1068.1 809.9,1064 812.1,1064 812.1,1071.3 818.1,1071.3 818.1,1052 812.1,1052 812.1,1043.8 809.9,1043.8 809.9,1048 807.1,1048 807.1,1044.9 804,1044.9 804,1041 809.9,1041 809.9,1033.2 814.9,1033.2 814.9,1037 818.1,1037 818.1,1029 812.1,1029 812.1,1025.1 809.9,1025.1 809.9,1021.2 807.1,1021.2 807.1,1006.1 812.1,1006.1ZM799.1,1048 804,1048 804,1052 799.1,1052ZM869,1029 873.9,1029 873.9,1033.2 869,1033.2ZM809.9,1121.8 812.1,1121.8 812.1,1125.7 809.9,1125.7ZM898.9,1000 901.1,1000 901.1,1002.1 898.9,1002.1ZM861.1,1068.1 864,1068.1 864,1072.1 861.1,1072.1ZM777,1156.8 784.9,1156.8 784.9,1159.9 777,1159.9ZM818.1,1195 823.1,1195 823.1,1198.9 818.1,1198.9ZM1055.1,1113.7 1057.9,1113.7 1057.9,1118 1055.1,1118ZM1033.9,1222.1 1037.1,1222.1 1037.1,1226.1 1033.9,1226.1ZM740,1230.3 742.1,1230.3 742.1,1233 740,1233ZM931,1077 938.9,1077 938.9,1086.9 931,1086.9ZM761.2,1052 764,1052 764,1060 761.2,1060 761.2,1068.1 758.1,1068.1 758.1,1064 756,1064 756,1060 761.2,1060ZM740,1060 744.9,1060 744.9,1068.1 747.1,1068.1 747.1,1078.8 740,1078.8ZM898.9,1009.9 901.1,1009.9 901.1,1014.1 903.9,1014.1 903.9,1018.1 907,1018.1 907,1021.2 910,1021.2 910,1033.2 918,1033.2 918,1041 910,1041 910,1044.9 907,1044.9 907,1041 901.1,1041 901.1,1014.1 898.9,1014.1ZM864,1055.8 869,1055.8 869,1068.1 866.2,1068.1 866.2,1064 864,1064ZM858,1074.9 869,1074.9 869,1072.1 872.1,1072.1 872.1,1068.1 873.9,1068.1 873.9,1072.1 877,1072.1 877,1074.9 883.1,1074.9 883.1,1078.8 885.1,1078.8 885.1,1082.9 895.8,1082.9 895.8,1090.8 898.9,1090.8 898.9,1082.9 901.1,1082.9 901.1,1078.8 907,1078.8 907,1086.9 903.9,1086.9 903.9,1094.9 911.9,1094.9 911.9,1090.8 914.9,1090.8 914.9,1086.9 926.1,1086.9 926.1,1090.8 931,1090.8 931,1086.9 944.9,1086.9 944.9,1078.8 953.1,1078.8 953.1,1074.9 950.1,1074.9 950.1,1068.1 958,1068.1 958,1072.1 963.9,1072.1 963.9,1078.8 961.1,1078.8 961.1,1082.9 958,1082.9 958,1086.9 966.1,1086.9 966.1,1102.9 968.9,1102.9 968.9,1113.7 966.1,1113.7 966.1,1118 963.9,1118 963.9,1121.8 973.8,1121.8 973.8,1118 976.9,1118 976.9,1121.8 985.1,1121.8 985.1,1125.7 996,1125.7 996,1121.8 1000.9,1121.8 1000.9,1130 1008.9,1130 1008.9,1144.8 1007,1144.8 1007,1148.8 996,1148.8 996,1180.1 999,1180.1 999,1176.2 1000.9,1176.2 1000.9,1172.1 1003.9,1172.1 1003.9,1180.1 1014.8,1180.1 1014.8,1187.2 1033.9,1187.2 1033.9,1198.9 1028.9,1198.9 1028.9,1203 1024,1203 1024,1198.9 1019.7,1198.9 1019.7,1195 1017.6,1195 1017.6,1198.9 1014.8,1198.9 1014.8,1210.9 1008.9,1210.9 1008.9,1228.2 1003.9,1228.2 1003.9,1233 864,1233 864,1228.9 858,1228.9 858,1214 861.1,1214 861.1,1210.9 855.1,1210.9 855.1,1207 850.2,1207 850.2,1198.9 842,1198.9 842,1195 831.1,1195 831.1,1180.1 834,1180.1 834,1176.2 837.2,1176.2 837.2,1167.8 853,1167.8 853,1163.9 855.1,1163.9 855.1,1159.9 858,1159.9 858,1156.8 861.1,1156.8 861.1,1140.9 864,1140.9 864,1132.8 866.2,1132.8 866.2,1125.7 873.9,1125.7 873.9,1121.8 869,1121.8 869,1102.9 861.1,1102.9 861.1,1106 855.1,1106 855.1,1102.9 858,1102.9 858,1098.9 855.1,1098.9 855.1,1094.9 861.1,1094.9 861.1,1078.8 858,1078.8ZM818.1,1148.8 820.1,1148.8 820.1,1152.9 823.1,1152.9 823.1,1159.9 820.1,1159.9 820.1,1167.8 818.1,1167.8 818.1,1176.2 814.9,1176.2 814.9,1180.1 812.1,1180.1 812.1,1176.2 809.9,1176.2 809.9,1180.1 807.1,1180.1 807.1,1159.9 809.9,1159.9 809.9,1156.8 812.1,1156.8 812.1,1152.9 818.1,1152.9ZM828,1152.9 831.1,1152.9 831.1,1159.9 834,1159.9 834,1163.9 837.2,1163.9 837.2,1167.8 834,1167.8 834,1176.2 831.1,1176.2 831.1,1180.1 825.9,1180.1 825.9,1176.2 828,1176.2 828,1159.9 825.9,1159.9 825.9,1156.8 828,1156.8ZM744.9,1167.8 753,1167.8 753,1172.1 749.9,1172.1 749.9,1176.2 744.9,1176.2ZM773.9,1172.1 777,1172.1 777,1176.2 784.9,1176.2 784.9,1172.1 790.9,1172.1 790.9,1176.2 793,1176.2 793,1180.1 796.1,1180.1 796.1,1172.1 799.1,1172.1 799.1,1176.2 804,1176.2 804,1180.1 807.1,1180.1 807.1,1184.1 804,1184.1 804,1180.1 799.1,1180.1 799.1,1187.2 790.9,1187.2 790.9,1203 788,1203 788,1207 790.9,1207 790.9,1214 784.9,1214 784.9,1226.1 780,1226.1 780,1222.1 773.9,1222.1 773.9,1218 766.1,1218 766.1,1222.1 758.1,1222.1 758.1,1218 756,1218 756,1214 747.1,1214 747.1,1210.9 749.9,1210.9 749.9,1207 753,1207 753,1203 756,1203 756,1187.2 766.1,1187.2 766.1,1180.1 773.9,1180.1ZM823.1,1198.9 828,1198.9 828,1203 825.9,1203 825.9,1207 823.1,1207ZM1050.1,1094.9 1052.9,1094.9 1052.9,1113.7 1046.9,1113.7 1046.9,1118 1042.1,1118 1042.1,1106 1039.1,1106 1039.1,1098.9 1050.1,1098.9ZM1052.9,1044.9 1060,1044.9 1060,1060 1057.9,1060 1057.9,1055.8 1055.1,1055.8 1055.1,1068.1 1052.9,1068.1ZM1019.7,1140.9 1031,1140.9 1031,1144.8 1027.9,1144.8 1027.9,1148.8 1026.1,1148.8 1026.1,1144.8 1019.7,1144.8ZM1045.2,1187.2 1046.9,1187.2 1046.9,1191 1052.9,1191 1052.9,1195 1046.9,1195 1046.9,1198.9 1050.1,1198.9 1050.1,1203 1052.9,1203 1052.9,1207 1042.1,1207 1042.1,1195 1037.1,1195 1037.1,1191 1045.2,1191ZM855.1,1233 1003.9,1233 1003.9,1242.2 1007,1242.2 1007,1245 1003.9,1245 1003.9,1253.2 1012,1253.2 1012,1257 1014.8,1257 1014.8,1261 1008.9,1261 1008.9,1269 1019.7,1269 1019.7,1271.9 1023,1271.9 1023,1269 1031,1269 1031,1271.9 1027.9,1271.9 1027.9,1283.9 1026.1,1283.9 1026.1,1306.9 1023,1306.9 1023,1311 1027.9,1311 1027.9,1326 1033.9,1326 1033.9,1323 1037.1,1323 1037.1,1326 1039.1,1326 1039.1,1334 1037.1,1334 1037.1,1341.8 1033.9,1341.8 1033.9,1346 1031,1346 1031,1357.3 1019.7,1357.3 1019.7,1368.6 1003.9,1368.6 1003.9,1361.6 999,1361.6 999,1357.3 996,1357.3 996,1352.8 992.9,1352.8 992.9,1350 972,1350 972,1352.8 968.9,1352.8 968.9,1357.3 958,1357.3 958,1361.6 953.1,1361.6 953.1,1369.8 958,1369.8 958,1372.9 953.1,1372.9 953.1,1379.9 947,1379.9 947,1387 944.9,1387 944.9,1396.9 942,1396.9 942,1400.8 926.1,1400.8 926.1,1387 923,1387 923,1379.9 920,1379.9 920,1376.8 914.9,1376.8 914.9,1369.8 910,1369.8 910,1376.8 907,1376.8 907,1369.8 898.9,1369.8 898.9,1372.9 895.8,1372.9 895.8,1379.9 892.9,1379.9 892.9,1376.8 887.9,1376.8 887.9,1357.3 883.1,1357.3 883.1,1350 879.9,1350 879.9,1352.8 877,1352.8 877,1361.6 873.9,1361.6 873.9,1372.9 869,1372.9 869,1369.8 866.2,1369.8 866.2,1365.8 864,1365.8 864,1361.6 855.1,1361.6 855.1,1357.3 861.1,1357.3 861.1,1350 858,1350 858,1341.8 855.1,1341.8 855.1,1337.8 853,1337.8 853,1330.2 850.2,1330.2 850.2,1326 853,1326 853,1323 850.2,1323 850.2,1314.9 845.3,1314.9 845.3,1306.9 842,1306.9 842,1311 834,1311 834,1306.9 831.1,1306.9 831.1,1299 828,1299 828,1295.9 831.1,1295.9 831.1,1261 837.2,1261 837.2,1265.1 842,1265.1 842,1261 850.2,1261 850.2,1265.1 853,1265.1 853,1253.2 855.1,1253.2ZM895.8,1379.9 907,1379.9 907,1383.9 903.9,1383.9 903.9,1387 895.8,1387ZM885.1,1383.9 892.9,1383.9 892.9,1387 885.1,1387ZM953.1,1376.8 958,1376.8 958,1379.9 953.1,1379.9ZM804,1337.8 807.1,1337.8 807.1,1346 804,1346ZM784.9,1350 788,1350 788,1356.6 784.9,1356.6ZM777,1372.9 780,1372.9 780,1376.8 777,1376.8ZM761.2,1383.9 766.1,1383.9 766.1,1387.7 761.2,1387.7ZM901.1,1411 907,1411 907,1419.1 911.9,1419.1 911.9,1423 898.9,1423 898.9,1419.1 901.1,1419.1ZM923,1404 934.7,1404 934.7,1408.2 931,1408.2 931,1411 920,1411 920,1408.2 923,1408.2ZM740,1295.9 742.1,1295.9 742.1,1292.1 747.1,1292.1 747.1,1295.9 753,1295.9 753,1299 756,1299 756,1295.9 761.2,1295.9 761.2,1292.1 766.1,1292.1 766.1,1288.1 769,1288.1 769,1292.1 773.9,1292.1 773.9,1288.1 790.9,1288.1 790.9,1292.1 793,1292.1 793,1299 788,1299 788,1302.9 784.9,1302.9 784.9,1299 780,1299 780,1302.9 773.9,1302.9 773.9,1311 777,1311 777,1314.9 773.9,1314.9 773.9,1326 780,1326 780,1334 773.9,1334 773.9,1341.8 772.1,1341.8 772.1,1352.8 769,1352.8 769,1350 766.1,1350 766.1,1352.8 761.2,1352.8 761.2,1341.8 758.1,1341.8 758.1,1346 756,1346 756,1350 753,1350 753,1341.8 756,1341.8 756,1337.8 761.2,1337.8 761.2,1326 764,1326 764,1323 753,1323 753,1314.9 740,1314.9ZM747.1,1242.2 756,1242.2 756,1248.1 758.1,1248.1 758.1,1252.1 753,1252.1 753,1248.1 747.1,1248.1ZM753,1368.9 766.1,1368.9 766.1,1372.9 769,1372.9 769,1376.8 764,1376.8 764,1379.9 761.2,1379.9 761.2,1376.8 756,1376.8 756,1372.9 753,1372.9ZM788,1376.8 796.1,1376.8 796.1,1379.9 804,1379.9 804,1395.9 799.1,1395.9 799.1,1391.9 796.1,1391.9 796.1,1387.7 793,1387.7 793,1383.9 790.9,1383.9 790.9,1379.9 788,1379.9ZM780,1395.9 799.1,1395.9 799.1,1408.2 793,1408.2 793,1411 777,1411 777,1415.3 766.1,1415.3 766.1,1419.5 758.1,1419.5 758.1,1415.3 766.1,1415.3 766.1,1411 772.1,1411 772.1,1404 773.9,1404 773.9,1408.2 780,1408.2ZM661,1203 677,1203 677,1211.1 680.1,1211.1 680.1,1213.9 691.1,1213.9 691.1,1222 696.1,1222 696.1,1225.9 693.1,1225.9 693.1,1229.9 691.1,1229.9 691.1,1222 680.1,1222 680.1,1241.9 672,1241.9 672,1237.9 669.1,1237.9 669.1,1234 664.1,1234 664.1,1211.1 666,1211.1 666,1206.8 661,1206.8ZM620,1234 633.5,1234 633.5,1249.9 637,1249.9 637,1253.5 620,1253.5 620,1257 615.1,1257 615.1,1260.5 620,1260.5 620,1269 633.5,1269 633.5,1261.2 638.7,1261.2 638.7,1276.1 641.9,1276.1 641.9,1280 638.7,1280 638.7,1288.1 626.1,1288.1 626.1,1284.1 617.9,1284.1 617.9,1280 612.3,1280 612.3,1276.1 615.1,1276.1 615.1,1270.4 612.3,1270.4 612.3,1249.2 615.1,1249.2 615.1,1241.9 620,1241.9ZM723.2,1229.9 728.8,1229.9 728.8,1234 723.2,1234ZM739,1229.9 742,1229.9 742,1234 739,1234ZM734.1,1253.5 739,1253.5 739,1260.5 734.1,1260.5ZM776.9,1373.1 780,1373.1 780,1377.1 776.9,1377.1ZM761,1384.2 766,1384.2 766,1388.1 761,1388.1ZM804,1338 807,1338 807,1346 804,1346ZM784.9,1350 787.9,1350 787.9,1357 784.9,1357ZM638.7,1357 641.9,1357 641.9,1361.1 638.7,1361.1ZM644.8,1361.1 646.6,1361.1 646.6,1372.1 644.8,1372.1ZM641.9,1369 644.8,1369 644.8,1372.1 641.9,1372.1ZM747.2,1241.9 756,1241.9 756,1252.1 753.1,1252.1 753.1,1249.2 747.2,1249.2ZM706.9,1241.9 711.9,1241.9 711.9,1245 715,1245 715,1264.8 711.9,1264.8 711.9,1269 718,1269 718,1276.1 723.2,1276.1 723.2,1284.1 720.1,1284.1 720.1,1288.1 723.2,1288.1 723.2,1295.1 720.1,1295.1 720.1,1302.9 723.2,1302.9 723.2,1306.9 728.8,1306.9 728.8,1302.9 734.1,1302.9 734.1,1306.9 737,1306.9 737,1296.1 742,1296.1 742,1292 747.2,1292 747.2,1296.1 753.1,1296.1 753.1,1299.1 756,1299.1 756,1296.1 761,1296.1 761,1292 766,1292 766,1288.1 769.1,1288.1 769.1,1292 771.9,1292 771.9,1296.1 774,1296.1 774,1288.1 791,1288.1 791,1292 792.8,1292 792.8,1299.1 787.9,1299.1 787.9,1302.9 784.9,1302.9 784.9,1299.1 780,1299.1 780,1302.9 774,1302.9 774,1311 776.9,1311 776.9,1314.9 774,1314.9 774,1325.9 780,1325.9 780,1334 774,1334 774,1338 771.9,1338 771.9,1352.8 769.1,1352.8 769.1,1348.8 766,1348.8 766,1352.8 761,1352.8 761,1341.8 758.1,1341.8 758.1,1346 756,1346 756,1350 753.1,1350 753.1,1341.8 756,1341.8 756,1338 761,1338 761,1325.9 764.2,1325.9 764.2,1323 753.1,1323 753.1,1314.9 739,1314.9 739,1352.8 737,1352.8 737,1365.1 734.1,1365.1 734.1,1369 723.2,1369 723.2,1377.1 726,1377.1 726,1379.9 728.8,1379.9 728.8,1388.1 734.1,1388.1 734.1,1396.2 739,1396.2 739,1413 709.8,1413 709.8,1400.4 706.9,1400.4 706.9,1396.2 696.1,1396.2 696.1,1391.9 693.1,1391.9 693.1,1384.2 685,1384.2 685,1379.9 682.9,1379.9 682.9,1377.1 666,1377.1 666,1373.1 657.9,1373.1 657.9,1353.1 664.1,1353.1 664.1,1350 666,1350 666,1338 664.1,1338 664.1,1325.9 666,1325.9 666,1314.9 669.1,1314.9 669.1,1302.9 672,1302.9 672,1296.1 677,1296.1 677,1292 680.1,1292 680.1,1276.1 682.9,1276.1 682.9,1257 688.1,1257 688.1,1261 696.1,1261 696.1,1269 703.8,1269 703.8,1261 706.9,1261 706.9,1257 703.8,1257 703.8,1245 706.9,1245ZM753.1,1369 766,1369 766,1373.1 769.1,1373.1 769.1,1377.1 764.2,1377.1 764.2,1379.9 761,1379.9 761,1377.1 756,1377.1 756,1373.1 753.1,1373.1ZM780,1396.2 799.1,1396.2 799.1,1413 766.3,1413 766.3,1411 771.9,1411 771.9,1404.2 774,1404.2 774,1408.2 780,1408.2ZM633.9,1361.1 638.7,1361.1 638.7,1369 637,1369 637,1373.1 633.9,1373.1ZM769.1,871 776.8,871 776.8,875.1 779.9,875.1 779.9,886.1 791,886.1 791,890 787.8,890 787.8,893.9 779.9,893.9 779.9,902 774,902 774,905.9 771.9,905.9 771.9,913 761,913 761,905.9 765.9,905.9 765.9,902 769.1,902 769.1,893.9 771.9,893.9 771.9,879.1 765.9,879.1 765.9,875.1 769.1,875.1ZM764.1,871 765.9,871 765.9,875.1 764.1,875.1ZM739.1,909 741.9,909 741.9,913 739.1,913ZM893,893.9 899,893.9 899,897.9 893,897.9ZM888,905.9 891,905.9 891,909 888,909ZM852.8,967 855,967 855,970.9 852.8,970.9ZM888,967 891,967 891,970.9 888,970.9ZM818.1,974.9 819.9,974.9 819.9,979 818.1,979ZM799,1047.9 804,1047.9 804,1052.1 799,1052.1ZM869.1,1028.8 873.9,1028.8 873.9,1033.1 869.1,1033.1ZM747.2,898.1 753.1,898.1 753.1,909 750,909 750,916.9 747.2,916.9ZM806.9,871 811.9,871 811.9,879.1 810,879.1 810,875.1 806.9,875.1ZM844.9,860 847,860 847,863.1 844.9,863.1 844.9,869.9 841.8,869.9 841.8,879.1 836.9,879.1 836.9,867.1 841.8,867.1 841.8,863.1 844.9,863.1ZM804,905.9 810,905.9 810,909 806.9,909 806.9,913 804,913ZM923.1,867.1 930.8,867.1 930.8,871 940,871 940,920.8 937.2,920.8 937.2,916.9 930.8,916.9 930.8,905.9 925.9,905.9 925.9,902 923.1,902 923.1,897.9 925.9,897.9 925.9,893.9 930.8,893.9 930.8,879.1 923.1,879.1ZM823,940.1 828,940.1 828,944.1 834,944.1 834,952.1 836.9,952.1 836.9,956.1 841.8,956.1 841.8,964.1 849.9,964.1 849.9,986.9 834,986.9 834,979 828,979 828,974.9 830.9,974.9 830.9,970.9 826,970.9 826,974.9 823,974.9 823,960 819.9,960 819.9,944.1 823,944.1ZM828,982.9 830.9,982.9 830.9,997.8 828,997.8 828,1002 826,1002 826,1018 830.9,1018 830.9,1025 836.9,1025 836.9,1028.8 839,1028.8 839,1025 841.8,1025 841.8,1021.1 844.9,1021.1 844.9,1025 849.9,1025 849.9,1028.8 855,1028.8 855,1037 852.8,1037 852.8,1041.1 849.9,1041.1 849.9,1052.1 847,1052.1 847,1056.1 844.9,1056.1 844.9,1064.2 841.8,1064.2 841.8,1075.2 839,1075.2 839,1079.3 836.9,1079.3 836.9,1083.2 834,1083.2 834,1086.1 830.9,1086.1 830.9,1090.3 828,1090.3 828,1086.1 826,1086.1 826,1075.2 818.1,1075.2 818.1,1086.1 823,1086.1 823,1093 804,1093 804,1090.3 801.1,1090.3 801.1,1083.2 799,1083.2 799,1068.1 810,1068.1 810,1064.2 811.9,1064.2 811.9,1071.9 818.1,1071.9 818.1,1052.1 811.9,1052.1 811.9,1045.1 810,1045.1 810,1047.9 806.9,1047.9 806.9,1045.1 804,1045.1 804,1041.1 806.9,1041.1 806.9,1037 810,1037 810,1033.1 815,1033.1 815,1037 818.1,1037 818.1,1028.8 811.9,1028.8 811.9,1025 810,1025 810,1021.1 806.9,1021.1 806.9,1005.9 811.9,1005.9 811.9,993.9 819.9,993.9 819.9,986.9 828,986.9ZM895.9,993.9 899,993.9 899,997.8 900.9,997.8 900.9,1002 899,1002 899,997.8 895.9,997.8ZM731.2,1059.9 745,1059.9 745,1068.1 747.2,1068.1 747.2,1079.3 734.2,1079.3 734.2,1083.2 731.2,1083.2 731.2,1087.2 734.2,1087.2 734.2,1093 704.1,1093 704.1,1083.2 710,1083.2 710,1075.2 714.9,1075.2 714.9,1087.2 729.1,1087.2 729.1,1068.1 731.2,1068.1ZM730.8,1059.8 744.6,1059.8 744.6,1068.1 747.1,1068.1 747.1,1078.7 733.5,1078.7 733.5,1082.7 730.8,1082.7 730.8,1086.6 734,1086.6 734,1095.1 724.7,1095.1 724.7,1099 722.9,1099 722.9,1114 718,1114 718,1121.9 710.2,1121.9 710.2,1114 704,1114 704,1082.7 710.2,1082.7 710.2,1074.8 715,1074.8 715,1086.6 728.7,1086.6 728.7,1068.1 730.8,1068.1ZM760.8,1051.9 763.8,1051.9 763.8,1059.8 760.8,1059.8 760.8,1068.1 758.2,1068.1 758.2,1063.7 755.9,1063.7 755.9,1059.8 760.8,1059.8ZM683.2,1121.9 688,1121.9 688,1126 683.2,1126ZM809.9,1121.9 812,1121.9 812,1126 809.9,1126ZM777.1,1157.2 785,1157.2 785,1159.8 777.1,1159.8ZM744.6,1167.8 752.9,1167.8 752.9,1171.3 749.9,1171.3 749.9,1175.7 744.6,1175.7ZM1638.8,1099 1641.8,1099 1641.8,1102.9 1638.8,1102.9ZM1517,944.1 1519.7,944.1 1519.7,947.6 1517,947.6Z" fill="#d5e8d5"/>
<path d="M1600.9,1171.8 1604.1,1171.8 1604.1,1175.9 1600.9,1175.9ZM1131.2,686 1133.8,686 1133.8,689 1131.2,689ZM1133.8,682.1 1136.1,682.1 1136.1,686 1133.8,686ZM1192.9,1067.9 1196.1,1067.9 1196.1,1071.9 1192.9,1071.9ZM1277.1,1082.9 1282,1082.9 1282,1086.9 1277.1,1086.9ZM1225.9,1052 1228.2,1052 1228.2,1056 1234,1056 1234,1059.9 1225.9,1059.9ZM960,1140.7 968.8,1140.7 968.8,1144.6 966.2,1144.6 966.2,1151.7 964.1,1151.7 964.1,1155.7 960,1155.7ZM1385.3,967 1393,967 1393,970.9 1389.9,970.9 1389.9,978.9 1393,978.9 1393,987.1 1385.3,987.1 1385.3,978.9 1382,978.9 1382,975.1 1385.3,975.1ZM1423.1,1021 1425.8,1021 1425.8,1025 1423.1,1025ZM1454.9,1041.1 1461.1,1041.1 1461.1,1048.1 1454.9,1048.1ZM1322.8,1087.1 1325.9,1087.1 1325.9,1091 1322.8,1091ZM1498,1075.1 1501.1,1075.1 1501.1,1078.9 1498,1078.9ZM1507,1095.2 1512,1095.2 1512,1099.1 1508.9,1099.1 1508.9,1103 1507,1103ZM1467.2,1137.2 1469,1137.2 1469,1141.1 1474,1141.1 1474,1149.2 1480.2,1149.2 1480.2,1153 1463,1153 1463,1141.1 1467.2,1141.1ZM1454.9,1160.1 1466.1,1160.1 1466.1,1168 1461.1,1168 1461.1,1172.1 1454.9,1172.1ZM1466.1,1179.8 1469,1179.8 1469,1186.9 1466.1,1186.9ZM1442.1,1276.2 1443.9,1276.2 1443.9,1284.1 1442.1,1284.1ZM1438.9,1221.8 1443.9,1221.8 1443.9,1225.8 1450,1225.8 1450,1241.7 1443.9,1241.7 1443.9,1233.8 1438.9,1233.8ZM1423.1,1237.8 1425.8,1237.8 1425.8,1241.7 1430.9,1241.7 1430.9,1249.1 1435.8,1249.1 1435.8,1241.7 1438.9,1241.7 1438.9,1249.1 1442.1,1249.1 1442.1,1241.7 1443.9,1241.7 1443.9,1249.1 1447,1249.1 1447,1261.1 1430.9,1261.1 1430.9,1253 1423.1,1253ZM1442.1,1296 1450,1296 1450,1302.8 1447,1302.8 1447,1307 1443.9,1307 1443.9,1311 1442.1,1311ZM1301.2,1190.9 1304,1190.9 1304,1198.9 1301.2,1198.9ZM1296,1203.2 1299.1,1203.2 1299.1,1207 1296,1207ZM1299.1,1207 1301.2,1207 1301.2,1210.9 1299.1,1210.9ZM1289.9,1213.8 1296,1213.8 1296,1218 1289.9,1218ZM1289.9,1168 1296,1168 1296,1176 1289.9,1176ZM1306.8,1203.2 1312.1,1203.2 1312.1,1207 1320,1207 1320,1218 1304,1218 1304,1207 1306.8,1207ZM828,1055.8 831.1,1055.8 831.1,1060 828,1060ZM831.1,1068.1 834,1068.1 834,1072.1 831.1,1072.1ZM936,1106 938.9,1106 938.9,1113.7 936,1113.7ZM958,1156.8 961.1,1156.8 961.1,1159.9 958,1159.9ZM966.1,1159.9 968.9,1159.9 968.9,1167.8 966.1,1167.8ZM911.9,1156.8 914.9,1156.8 914.9,1159.9 911.9,1159.9ZM938.9,1187.2 942,1187.2 942,1191 938.9,1191ZM834,1167.8 837.2,1167.8 837.2,1176.2 834,1176.2ZM788,1184.1 790.9,1184.1 790.9,1187.2 788,1187.2ZM944.9,1113.7 950.1,1113.7 950.1,1118 947,1118 947,1140.9 950.1,1140.9 950.1,1148.8 937.1,1148.8 937.1,1152.9 934.7,1152.9 934.7,1136.8 938.9,1136.8 938.9,1132.8 942,1132.8 942,1130 944.9,1130ZM955,1140.9 968.9,1140.9 968.9,1144.8 966.1,1144.8 966.1,1152.9 963.9,1152.9 963.9,1156.8 961.1,1156.8 961.1,1152.9 958,1152.9 958,1144.8 955,1144.8ZM887.9,1144.8 892.9,1144.8 892.9,1148.8 890.9,1148.8 890.9,1152.9 887.9,1152.9ZM864,1152.9 869,1152.9 869,1159.9 866.2,1159.9 866.2,1156.8 864,1156.8ZM873.9,1152.9 879.9,1152.9 879.9,1159.9 877,1159.9 877,1156.8 873.9,1156.8ZM883.1,1156.8 887.9,1156.8 887.9,1159.9 885.1,1159.9 885.1,1163.9 883.1,1163.9ZM892.9,1159.9 895.8,1159.9 895.8,1167.8 890.9,1167.8 890.9,1163.9 892.9,1163.9ZM898.9,1159.9 907,1159.9 907,1163.9 911.9,1163.9 911.9,1167.8 901.1,1167.8 901.1,1163.9 898.9,1163.9ZM911.9,1167.8 918,1167.8 918,1176.2 926.1,1176.2 926.1,1185.1 923,1185.1 923,1195 921.1,1195 921.1,1198.9 920,1198.9 920,1207 918,1207 918,1203 911.9,1203 911.9,1195 910,1195 910,1184.1 907,1184.1 907,1180.1 911.9,1180.1ZM934.7,1172.1 944.9,1172.1 944.9,1180.1 942,1180.1 942,1184.1 938.9,1184.1 938.9,1180.1 937.1,1180.1 937.1,1176.2 934.7,1176.2ZM958,1163.9 961.1,1163.9 961.1,1180.1 958,1180.1 958,1176.2 955,1176.2 955,1180.1 953.1,1180.1 953.1,1187.2 950.1,1187.2 950.1,1180.1 947,1180.1 947,1176.2 950.1,1176.2 950.1,1172.1 953.1,1172.1 953.1,1167.8 958,1167.8ZM981.9,1184.1 991.1,1184.1 991.1,1187.2 981.9,1187.2 981.9,1195 976.9,1195 976.9,1187.2 981.9,1187.2ZM991.1,1195 996,1195 996,1203 992.9,1203 992.9,1207 991.1,1207ZM858,1233 873.9,1233 873.9,1239.1 869,1239.1 869,1245 864,1245 864,1242.2 858,1242.2ZM855.1,1249.2 858,1249.2 858,1253.2 855.1,1253.2ZM898.9,1265.1 901.1,1265.1 901.1,1271.9 898.9,1271.9ZM842,1275.8 845.3,1275.8 845.3,1279.9 842,1279.9ZM869,1288.1 872.1,1288.1 872.1,1292.1 869,1292.1ZM855.1,1330.2 858,1330.2 858,1334 855.1,1334ZM944.9,1275.8 947,1275.8 947,1279.9 944.9,1279.9ZM1023,1326 1027.9,1326 1027.9,1334 1023,1334ZM1019.7,1337.8 1023,1337.8 1023,1341.8 1019.7,1341.8ZM1008.9,1352.8 1012,1352.8 1012,1361.6 1008.9,1361.6ZM753,1306.9 756,1306.9 756,1311 753,1311ZM766.1,1341.8 769,1341.8 769,1346 766.1,1346ZM761.2,1372.9 764,1372.9 764,1375.7 761.2,1375.7ZM914.9,1265.1 918,1265.1 918,1269 920,1269 920,1271.9 914.9,1271.9ZM890.9,1271.9 895.8,1271.9 895.8,1275.8 892.9,1275.8 892.9,1283.9 887.9,1283.9 887.9,1295.9 890.9,1295.9 890.9,1299 892.9,1299 892.9,1306.9 883.1,1306.9 883.1,1323 877,1323 877,1326 873.9,1326 873.9,1314.9 869,1314.9 869,1311 872.1,1311 872.1,1299 877,1299 877,1295.9 873.9,1295.9 873.9,1288.1 883.1,1288.1 883.1,1279.9 887.9,1279.9 887.9,1275.8 890.9,1275.8ZM911.9,1288.1 926.1,1288.1 926.1,1283.9 927.9,1283.9 927.9,1288.1 931,1288.1 931,1295.9 953.1,1295.9 953.1,1311 955,1311 955,1314.9 963.9,1314.9 963.9,1318.9 958,1318.9 958,1323 950.1,1323 950.1,1314.9 938.9,1314.9 938.9,1341.8 942,1341.8 942,1346 944.9,1346 944.9,1350 938.9,1350 938.9,1352.8 926.1,1352.8 920,1352.8 920,1357.3 914.9,1357.3 914.9,1361.6 911.9,1361.6 911.9,1357.3 910,1357.3 910,1365.8 907,1365.8 907,1357.3 903.9,1357.3 903.9,1352.8 901.1,1352.8 901.1,1346 911.9,1346 911.9,1341.8 907,1341.8 907,1337.8 910,1337.8 910,1334 914.9,1334 914.9,1330.2 920,1330.2 920,1326 923,1326 923,1323 926.1,1323 926.1,1318.9 923,1318.9 923,1314.9 920,1314.9 920,1306.9 918,1306.9 918,1302.9 914.9,1302.9 914.9,1295.9 911.9,1295.9ZM892.9,1306.9 895.8,1306.9 895.8,1318.9 898.9,1318.9 898.9,1341.8 901.1,1341.8 901.1,1346 895.8,1346 895.8,1337.8 892.9,1337.8 892.9,1330.2 887.9,1330.2 887.9,1326 892.9,1326ZM955,1275.8 958,1275.8 958,1283.9 961.1,1283.9 961.1,1288.1 958,1288.1 958,1292.1 953.1,1292.1 953.1,1279.9 955,1279.9ZM672,1211.1 674.2,1211.1 674.2,1213.9 680.1,1213.9 680.1,1217.9 677,1217.9 677,1225.9 674.2,1225.9 674.2,1213.9 672,1213.9ZM709.8,1280 711.9,1280 711.9,1284.1 715,1284.1 715,1288.1 703.8,1288.1 703.8,1284.1 709.8,1284.1ZM703.8,1288.1 706.9,1288.1 706.9,1292 709.8,1292 709.8,1299.1 711.9,1299.1 711.9,1302.9 715,1302.9 715,1314.9 723.2,1314.9 723.2,1318.9 720.1,1318.9 720.1,1323 711.9,1323 711.9,1318.9 709.8,1318.9 709.8,1314.9 703.8,1314.9 703.8,1311 696.1,1311 696.1,1306.9 691.1,1306.9 691.1,1299.1 696.1,1299.1 696.1,1296.1 698.9,1296.1 698.9,1292 703.8,1292ZM677,1311 680.1,1311 680.1,1314.9 677,1314.9ZM753.1,1306.9 756,1306.9 756,1311 753.1,1311ZM766,1341.8 769.1,1341.8 769.1,1346 766,1346ZM682.9,1323 696.1,1323 696.1,1325.9 693.1,1325.9 693.1,1330 691.1,1330 691.1,1325.9 688.1,1325.9 688.1,1330 685,1330 685,1325.9 682.9,1325.9ZM677,1334 696.1,1334 696.1,1341.8 691.1,1341.8 691.1,1338 688.1,1338 688.1,1341.8 677,1341.8ZM709.8,1388.1 720.1,1388.1 720.1,1391.9 715,1391.9 715,1396.2 709.8,1396.2ZM828,1056.1 830.9,1056.1 830.9,1059.9 828,1059.9ZM830.9,1068.1 834,1068.1 834,1071.9 830.9,1071.9ZM841.8,1025 844.9,1025 844.9,1028.8 841.8,1028.8ZM710.2,1095.1 712.3,1095.1 712.3,1099 710.2,1099Z" fill="#f7f7f7"/>
<path d="M1425.8,1029.1 1427.9,1029.1 1427.9,1033 1430.9,1033 1430.9,1041.1 1442.1,1041.1 1442.1,1045 1453.1,1045 1453.1,1068.1 1450,1068.1 1450,1072.2 1442.1,1072.2 1442.1,1075.1 1434,1075.1 1434,1078.9 1427.9,1078.9 1427.9,1068.1 1425.8,1068.1 1425.8,1078.9 1423.1,1078.9 1423.1,1087.1 1415.2,1087.1 1415.2,1091 1409,1091 1409,1095.2 1412.1,1095.2 1412.1,1099.1 1409,1099.1 1409,1106.1 1404,1106.1 1404,1113.6 1393,1113.6 1393,1137.2 1389.9,1137.2 1389.9,1141.1 1382,1141.1 1382,1149.2 1380,1149.2 1380,1153 1341.9,1153 1341.9,1145.1 1338.9,1145.1 1338.9,1141.1 1336.1,1141.1 1336.1,1133.1 1328,1133.1 1328,1137.2 1325.9,1137.2 1325.9,1133.1 1320,1133.1 1320,1130.1 1315,1130.1 1315,1114 1330.9,1114 1330.9,1110 1334,1110 1334,1103 1336.1,1103 1336.1,1099.1 1338.9,1099.1 1338.9,1095.2 1346.8,1095.2 1346.8,1103 1354.9,1103 1354.9,1106.1 1353,1106.1 1353,1117.8 1361.2,1117.8 1361.2,1114 1365.9,1114 1365.9,1122 1377.1,1122 1377.1,1117.8 1380,1117.8 1380,1114 1385.3,1114 1385.3,1087.1 1388.1,1087.1 1388.1,1078.9 1385.3,1078.9 1385.3,1083.2 1380,1083.2 1380,1072.2 1382,1072.2 1382,1068.1 1385.3,1068.1 1385.3,1060.2 1389.9,1060.2 1389.9,1056.1 1407.2,1056.1 1407.2,1060.2 1427.9,1060.2 1427.9,1052.1 1430.9,1052.1 1430.9,1045 1427.9,1045 1427.9,1041.1 1425.8,1041.1ZM1447,1075.1 1461.1,1075.1 1461.1,1078.9 1463,1078.9 1463,1075.1 1469,1075.1 1469,1087.1 1463,1087.1 1463,1091 1461.1,1091 1461.1,1095.2 1442.1,1095.2 1442.1,1091 1435.8,1091 1435.8,1087.1 1434,1087.1 1434,1083.2 1435.8,1083.2 1435.8,1078.9 1447,1078.9ZM1365.9,1075.1 1372.1,1075.1 1372.1,1078.9 1369,1078.9 1369,1083.2 1365.9,1083.2ZM1365.9,1087.1 1372.1,1087.1 1372.1,1095.2 1365.9,1095.2ZM1358.1,1095.2 1365.9,1095.2 1365.9,1099.1 1358.1,1099.1ZM1434,1149.2 1435.8,1149.2 1435.8,1153 1434,1153ZM1423.1,1099.1 1425.8,1099.1 1425.8,1106.1 1430.9,1106.1 1430.9,1114 1434,1114 1434,1117.8 1435.8,1117.8 1435.8,1126 1442.1,1126 1442.1,1137.2 1435.8,1137.2 1435.8,1141.1 1434,1141.1 1434,1130.1 1430.9,1130.1 1430.9,1122 1425.8,1122 1425.8,1126 1423.1,1126 1423.1,1117.8 1415.2,1117.8 1415.2,1114 1423.1,1114ZM1498,1087.1 1501.1,1087.1 1501.1,1095.2 1503.9,1095.2 1503.9,1103 1507,1103 1507,1122 1508.9,1122 1508.9,1126 1512,1126 1512,1141.1 1507,1141.1 1507,1153 1490.1,1153 1490.1,1149.2 1488.1,1149.2 1488.1,1133.1 1485.1,1133.1 1485.1,1130.1 1488.1,1130.1 1488.1,1126 1485.1,1126 1485.1,1122 1488.1,1122 1488.1,1117.8 1490.1,1117.8 1490.1,1106.1 1493.1,1106.1 1493.1,1095.2 1498,1095.2ZM1344,1153 1380,1153 1380,1157 1382,1157 1382,1160.1 1385.3,1160.1 1385.3,1168 1374,1168 1374,1172.1 1369,1172.1 1369,1176 1365.9,1176 1365.9,1179.8 1361.2,1179.8 1361.2,1176 1358.1,1176 1358.1,1179.8 1353,1179.8 1353,1176 1349.9,1176 1349.9,1172.1 1346.8,1172.1 1346.8,1157 1344,1157ZM1488.1,1153 1508.9,1153 1508.9,1157 1512,1157 1512,1160.1 1526.1,1160.1 1526.1,1168 1516.9,1168 1516.9,1172.1 1515,1172.1 1515,1168 1501.1,1168 1501.1,1172.1 1498,1172.1 1498,1168 1496.2,1168 1496.2,1172.1 1493.1,1172.1 1493.1,1164 1490.1,1164 1490.1,1157 1488.1,1157ZM873.9,1098.9 879.9,1098.9 879.9,1102.9 873.9,1102.9ZM885.1,1106 887.9,1106 887.9,1109.9 885.1,1109.9ZM976.9,1207 981.9,1207 981.9,1214 976.9,1214ZM842,1172.1 845.3,1172.1 845.3,1176.2 847.1,1176.2 847.1,1180.1 842,1180.1ZM837.2,1180.1 839.2,1180.1 839.2,1184.1 842,1184.1 842,1191 839.2,1191 839.2,1187.2 837.2,1187.2ZM855.1,1187.2 858,1187.2 858,1195 861.1,1195 861.1,1203 858,1203 858,1207 855.1,1207 855.1,1198.9 850.2,1198.9 850.2,1195 853,1195 853,1191 855.1,1191ZM866.2,1172.1 873.9,1172.1 873.9,1176.2 883.1,1176.2 883.1,1180.1 887.9,1180.1 887.9,1176.2 892.9,1176.2 892.9,1180.1 895.8,1180.1 895.8,1184.1 898.9,1184.1 898.9,1187.2 901.1,1187.2 901.1,1195 910,1195 910,1203 907,1203 907,1207 911.9,1207 911.9,1214 914.9,1214 914.9,1222.1 918,1222.1 918,1226.1 920,1226.1 920,1233 887.9,1233 887.9,1214 883.1,1214 883.1,1207 879.9,1207 879.9,1210.9 872.1,1210.9 872.1,1203 873.9,1203 873.9,1191 877,1191 877,1187.2 866.2,1187.2 866.2,1184.1 864,1184.1 864,1176.2 866.2,1176.2ZM944.9,1195 958,1195 958,1207 955,1207 955,1214 963.9,1214 963.9,1218 966.1,1218 966.1,1222.1 972,1222.1 972,1226.1 992.9,1226.1 992.9,1222.1 999,1222.1 999,1226.1 996,1226.1 996,1233 934.7,1233 934.7,1226.1 927.9,1226.1 927.9,1222.1 926.1,1222.1 926.1,1210.9 934.7,1210.9 934.7,1207 938.9,1207 938.9,1214 947,1214 947,1207 942,1207 942,1203 938.9,1203 938.9,1198.9 944.9,1198.9ZM887.9,1233 920,1233 920,1239.1 918,1239.1 918,1245 914.9,1245 914.9,1242.2 910,1242.2 910,1239.1 907,1239.1 907,1242.2 903.9,1242.2 903.9,1248.1 907,1248.1 907,1252.1 910,1252.1 910,1257 911.9,1257 911.9,1261 903.9,1261 903.9,1257 901.1,1257 901.1,1252.1 895.8,1252.1 895.8,1248.1 892.9,1248.1 892.9,1242.2 887.9,1242.2 887.9,1245 883.1,1245 883.1,1242.2 887.9,1242.2ZM934.7,1233 996,1233 996,1248.1 991.1,1248.1 991.1,1252.1 988,1252.1 988,1257 985.1,1257 985.1,1261 972,1261 972,1269 955,1269 955,1261 934.7,1261 934.7,1257 932.9,1257 932.9,1248.1 931,1248.1 931,1233ZM861.1,1271.9 864,1271.9 864,1283.9 861.1,1283.9ZM963.9,1341.8 966.1,1341.8 966.1,1350 963.9,1350ZM972,1337.8 973.8,1337.8 973.8,1341.8 972,1341.8ZM947,1350 950.1,1350 950.1,1352.8 947,1352.8ZM1008.9,1346 1012,1346 1012,1350 1008.9,1350ZM1014.8,1346 1018,1346 1018,1350 1014.8,1350ZM864,1299 866.2,1299 866.2,1306.9 869,1306.9 869,1314.9 861.1,1314.9 861.1,1311 858,1311 858,1306.9 864,1306.9ZM953.1,1330.2 958,1330.2 958,1350 955,1350 955,1341.8 953.1,1341.8 953.1,1337.8 950.1,1337.8 950.1,1334 953.1,1334ZM858,1341.8 864,1341.8 864,1352.8 861.1,1352.8 861.1,1346 858,1346ZM885.1,1337.8 887.9,1337.8 887.9,1350 883.1,1350 883.1,1341.8 885.1,1341.8ZM1007,1326 1008.9,1326 1008.9,1330.2 1014.8,1330.2 1014.8,1337.8 1008.9,1337.8 1008.9,1341.8 1007,1341.8 1007,1350 1000.9,1350 1000.9,1337.8 1003.9,1337.8 1003.9,1334 1007,1334ZM682.9,1361.1 693.1,1361.1 693.1,1365.1 696.1,1365.1 696.1,1379.9 693.1,1379.9 693.1,1384.2 685,1384.2 685,1379.9 682.9,1379.9 682.9,1376.1 680.1,1376.1 680.1,1373.1 677,1373.1 677,1369 680.1,1369 680.1,1365.1 682.9,1365.1Z" fill="#74c4c0"/>
<path d="M1423.1,1064.1 1425.8,1064.1 1425.8,1068.1 1423.1,1068.1ZM1407.2,1087.1 1409,1087.1 1409,1091 1407.2,1091ZM1344,1137.2 1346.8,1137.2 1346.8,1141.1 1344,1141.1ZM1498,1114 1501.1,1114 1501.1,1122 1503.9,1122 1503.9,1126 1501.1,1126 1501.1,1130.1 1498,1130.1 1498,1126 1496.2,1126 1496.2,1117.8 1498,1117.8ZM1358.1,1160.1 1361.2,1160.1 1361.2,1168 1358.1,1168ZM1365.9,1157 1369,1157 1369,1160.1 1365.9,1160.1ZM1372.1,1157 1374,1157 1374,1160.1 1372.1,1160.1ZM892.9,1237.9 895.8,1237.9 895.8,1242.2 892.9,1242.2ZM963.9,1253.2 966.1,1253.2 966.1,1261 963.9,1261ZM958,1261 961.1,1261 961.1,1265.1 958,1265.1ZM926.1,1311 931,1311 931,1314.9 926.1,1314.9Z" fill="#d5e8d5"/>
<path d="M1290,422.9 1296.2,422.9 1296.2,435 1290,435ZM1579.9,422.9 1582,422.9 1582,426.7 1587.8,426.7 1587.8,430.8 1590,430.8 1590,422.9 1593,422.9 1593,430.8 1601.1,430.8 1601.1,438.2 1595.8,438.2 1595.8,442.1 1590,442.1 1590,438.2 1582,438.2 1582,430.8 1579.9,430.8ZM1622.9,435 1627.9,435 1627.9,442.1 1624.9,442.1 1624.9,438.2 1622.9,438.2ZM1642,392 1647.1,392 1647.1,407.9 1644.1,407.9 1644.1,414.9 1639,414.9 1639,410.9 1634.1,410.9 1634.1,407.9 1636.2,407.9 1636.2,403.8 1639,403.8 1639,395.9 1642,395.9ZM1631.1,414.9 1634.1,414.9 1634.1,418.8 1631.1,418.8ZM1639,549.9 1642,549.9 1642,557.8 1639,557.8ZM1779.1,512 1784.9,512 1784.9,515.8 1779.1,515.8ZM1784.9,515.8 1787.9,515.8 1787.9,519.9 1784.9,519.9ZM1790,515.8 1792.9,515.8 1792.9,519.9 1790,519.9ZM1779.1,534.9 1782.1,534.9 1782.1,538.8 1779.1,538.8ZM1782.1,538.8 1784.9,538.8 1784.9,542.8 1782.1,542.8ZM1795.9,538.8 1798,538.8 1798,542.8 1795.9,542.8ZM1960,1141.1 1963.2,1141.1 1963.2,1145 1966.2,1145 1966.2,1152.9 1960,1152.9ZM1968.8,1152.9 1970.9,1152.9 1970.9,1157 1968.8,1157ZM2050,1171.8 2052.1,1171.8 2052.1,1175.9 2050,1175.9ZM2052.1,1175.9 2057.9,1175.9 2057.9,1179.9 2052.1,1179.9ZM2050,1179.9 2055.3,1179.9 2055.3,1183.8 2050,1183.8ZM2055.3,1194.9 2065.9,1194.9 2065.9,1198.8 2055.3,1198.8ZM2055.3,1198.8 2063.2,1198.8 2063.2,1202.9 2055.3,1202.9ZM2090,1179.9 2092.9,1179.9 2092.9,1183.8 2090,1183.8ZM2084.9,1183.8 2087,1183.8 2087,1186.8 2084.9,1186.8ZM2123.2,1186.8 2125,1186.8 2125,1194.9 2123.2,1194.9ZM2158,1238 2162.9,1238 2162.9,1242 2158,1242ZM2112.1,1175.9 2117,1175.9 2117,1179.9 2120.2,1179.9 2120.2,1183.8 2117,1183.8 2117,1194.9 2120.2,1194.9 2120.2,1217.9 2114,1217.9 2114,1222.1 2112.1,1222.1 2112.1,1213.8 2109.1,1213.8 2109.1,1217.9 2105.9,1217.9 2105.9,1222.1 2104.2,1222.1 2104.2,1225.8 2098,1225.8 2098,1230 2092.9,1230 2092.9,1225.8 2090,1225.8 2090,1222.1 2087,1222.1 2087,1217.9 2084.9,1217.9 2084.9,1213.8 2079.1,1213.8 2079.1,1206.7 2090,1206.7 2090,1202.9 2098,1202.9 2098,1194.9 2095.9,1194.9 2095.9,1191 2090,1191 2090,1194.9 2087,1194.9 2087,1186.8 2092.9,1186.8 2092.9,1183.8 2098,1183.8 2098,1186.8 2105.9,1186.8 2105.9,1183.8 2109.1,1183.8 2109.1,1179.9 2112.1,1179.9ZM1931.1,1133 1939,1133 1939,1137.1 1942,1137.1 1942,1133 1947.3,1133 1947.3,1126.1 1952.1,1126.1 1952.1,1133 1947.3,1133 1947.3,1141.1 1939,1141.1 1939,1149.1 1931.1,1149.1ZM1939,1149.1 1942,1149.1 1942,1157 1944.1,1157 1944.1,1160 1933.2,1160 1933.2,1152.9 1939,1152.9ZM1927.9,1152.9 1931.1,1152.9 1931.1,1167.9 1933.2,1167.9 1933.2,1175.9 1931.1,1175.9 1931.1,1179.9 1922.9,1179.9 1922.9,1171.8 1924.9,1171.8 1924.9,1167.9 1927.9,1167.9ZM1874.1,1160 1877.1,1160 1877.1,1167.9 1874.1,1167.9ZM565.9,971 572,971 572,975.1 577,975.1 577,986.9 569,986.9 569,979 565.9,979ZM580,986.9 583,986.9 583,991 580,991ZM606.8,967.2 610,967.2 610,971 606.8,971ZM1150,759.2 1160.8,759.2 1160.8,763.1 1171.7,763.1 1171.7,759.2 1182,759.2 1182,763.1 1185,763.1 1185,766.8 1188,766.8 1188,777.7 1182,777.7 1182,785.7 1180,785.7 1180,797.7 1169.1,797.7 1169.1,789.7 1162.9,789.7 1162.9,785.7 1155,785.7 1155,789.7 1152.9,789.7 1152.9,793.6 1150,793.6 1150,789.7 1141.7,789.7 1141.7,793.6 1136.1,793.6 1136.1,789.7 1130.8,789.7 1130.8,793.6 1125.9,793.6 1125.9,785.7 1136.1,785.7 1136.1,773.9 1139.1,773.9 1139.1,769.8 1141.7,769.8 1141.7,766.8 1147,766.8 1147,763.1 1150,763.1ZM1199.1,763.1 1207,763.1 1207,777.7 1201.2,777.7 1201.2,781.8 1199.1,781.8 1199.1,769.8 1201.2,769.8 1201.2,766.8 1199.1,766.8ZM1287.8,623.9 1295.8,623.9 1295.8,630.9 1287.8,630.9ZM1285,627.8 1287.8,627.8 1287.8,630.9 1285,630.9ZM1279.9,627.8 1282,627.8 1282,630.9 1279.9,630.9ZM1312,593 1314.7,593 1314.7,596.9 1312,596.9ZM1277.1,630.9 1285,630.9 1285,638.9 1282,638.9 1282,642.8 1277.1,642.8ZM1301.1,630.9 1304.1,630.9 1304.1,658.6 1290,658.6 1290,654.8 1287.8,654.8 1287.8,650.7 1295.8,650.7 1295.8,642.8 1298.8,642.8 1298.8,638.9 1301.1,638.9ZM1498,638.9 1500.8,638.9 1500.8,642.8 1506.8,642.8 1506.8,638.9 1512.1,638.9 1512.1,647.2 1523.2,647.2 1523.2,651 1517,651 1517,658.6 1514.9,658.6 1514.9,651 1500.8,651 1500.8,642.8 1498,642.8ZM1492.9,655.1 1495.9,655.1 1495.9,659.2 1506.8,659.2 1506.8,670.1 1512.1,670.1 1512.1,677.7 1509.1,677.7 1509.1,686 1504.2,686 1504.2,681.9 1500.8,681.9 1500.8,677.7 1495.9,677.7 1495.9,674 1492.9,674 1492.9,666.2 1487.9,666.2 1487.9,659.2 1492.9,659.2ZM1512.1,719.9 1514.9,719.9 1514.9,723.9 1517,723.9 1517,727.8 1514.9,727.8 1514.9,731.9 1512.1,731.9ZM1562.9,719.9 1569.1,719.9 1569.1,723.9 1562.9,723.9ZM1562.9,746.9 1566.1,746.9 1566.1,750.9 1562.9,750.9ZM1417,769.8 1420,769.8 1420,773.9 1417,773.9ZM1506.8,773.9 1509.1,773.9 1509.1,781.8 1506.8,781.8ZM1512.1,801 1514.9,801 1514.9,805.1 1512.1,805.1ZM1569.1,723.9 1582,723.9 1582,727.8 1580,727.8 1580,731.9 1582,731.9 1582,735.9 1585,735.9 1585,739.8 1588,739.8 1588,743 1585,743 1585,746.9 1577,746.9 1577,743 1574,743 1574,739.8 1571.7,739.8 1571.7,731.9 1569.1,731.9ZM1550,739.8 1552.9,739.8 1552.9,743 1555,743 1555,746.9 1558,746.9 1558,750.9 1552.9,750.9 1552.9,754.8 1550,754.8ZM1415.1,759.2 1417,759.2 1417,763.1 1420,763.1 1420,766.8 1431.1,766.8 1431.1,777.7 1427.9,777.7 1427.9,773.9 1423,773.9 1423,769.8 1420,769.8 1420,766.8 1417,766.8 1417,763.1 1415.1,763.1ZM1498,754.8 1500.8,754.8 1500.8,766.8 1498,766.8 1498,769.8 1500.8,769.8 1500.8,773.9 1504.2,773.9 1504.2,781.8 1498,781.8 1498,785.7 1500.8,785.7 1500.8,797.7 1504.2,797.7 1504.2,805.1 1506.8,805.1 1506.8,801 1509.1,801 1509.1,805.1 1512.1,805.1 1512.1,821 1504.2,821 1504.2,816.9 1498,816.9 1498,813 1484.9,813 1484.9,816.9 1471.2,816.9 1471.2,813 1469,813 1469,808.6 1471.2,808.6 1471.2,801 1463.2,801 1463.2,797.7 1450,797.7 1450,801 1447,801 1447,797.7 1442,797.7 1442,793.6 1435.9,793.6 1435.9,785.7 1442,785.7 1442,781.8 1447,781.8 1447,777.7 1450,777.7 1450,781.8 1453,781.8 1453,785.7 1455.3,785.7 1455.3,773.9 1457.9,773.9 1457.9,769.8 1465.9,769.8 1465.9,766.8 1474.2,766.8 1474.2,773.9 1480,773.9 1480,777.7 1484.9,777.7 1484.9,781.8 1487.9,781.8 1487.9,769.8 1492.9,769.8 1492.9,758.9 1498,758.9ZM1453,805.1 1455.3,805.1 1455.3,812.7 1460.9,812.7 1460.9,816.9 1463.2,816.9 1463.2,813 1465.9,813 1465.9,828 1469,828 1469,831.6 1460.9,831.6 1460.9,836 1457.9,836 1457.9,840 1455.3,840 1455.3,836 1450,836 1450,840 1447,840 1447,828 1443.8,828 1443.8,821 1447,821 1447,808.6 1453,808.6Z" fill="#fdb863"/>
<path d="M2109.1,1194.9 2117,1194.9 2117,1198.8 2109.1,1198.8ZM569,975.1 572,975.1 572,979 569,979ZM1487.9,785.7 1495.9,785.7 1495.9,793.6 1498,793.6 1498,797.7 1492.9,797.7 1492.9,805.1 1490,805.1 1490,797.7 1487.9,797.7Z" fill="#f7f7f7"/>
<path d="M1130.8,719.9 1136.1,719.9 1136.1,723.9 1130.8,723.9Z" fill="#808080"/>
</g>
</g>
<g stroke="#808080" stroke-width="4.2" stroke-dasharray="4.2 13.583" fill="none">
<line x1="634.6" y1="296" x2="634.6" y2="1488.4" stroke-dashoffset="5.12"/>
<line x1="934.7" y1="296" x2="934.7" y2="1488.4" stroke-dashoffset="5.12"/>
<line x1="1234.9" y1="296" x2="1234.9" y2="1488.4" stroke-dashoffset="5.12"/>
<line x1="1535.0" y1="296" x2="1535.0" y2="1488.4" stroke-dashoffset="5.12"/>
<line x1="1835.2" y1="296" x2="1835.2" y2="1488.4" stroke-dashoffset="5.12"/>
<line x1="2135.3" y1="296" x2="2135.3" y2="1488.4" stroke-dashoffset="5.12"/>
<line x1="469.1" y1="1254.7" x2="2330.4" y2="1254.7" stroke-dashoffset="16.08"/>
<line x1="469.1" y1="1040.2" x2="2330.4" y2="1040.2" stroke-dashoffset="16.08"/>
<line x1="469.1" y1="825.8" x2="2330.4" y2="825.8" stroke-dashoffset="16.08"/>
<line x1="469.1" y1="611.3" x2="2330.4" y2="611.3" stroke-dashoffset="16.08"/>
<line x1="469.1" y1="396.9" x2="2330.4" y2="396.9" stroke-dashoffset="16.08"/>
</g>
<g font-family="'DejaVu Sans', 'Liberation Sans', sans-serif">
<text x="469.6" y="122.8" font-size="53.36" font-weight="bold" fill="#000">ECMWFS51 seasonal forecasts of total precipitation</text>
<text x="469.7" y="203" font-size="47.4" fill="#000">Probability of the most likely tercile category</text>
<text x="469.7" y="267.3" font-size="47.4" fill="#000">Nominal forecast start: 01/11/2012</text>
<text x="2318.3" y="267.3" font-size="47.4" fill="#000" text-anchor="end">Valid time: DEC 2012</text>
<g font-size="50" fill="#4d4d4d" text-anchor="end">
<text x="441.6" y="200.5">47°N</text>
<text x="441.6" y="415.0">46.5°N</text>
<text x="441.6" y="629.4">46°N</text>
<text x="441.6" y="843.9">45.5°N</text>
<text x="441.6" y="1058.3">45°N</text>
<text x="441.6" y="1272.8">44.5°N</text>
<text x="441.6" y="1487.2">44°N</text>
</g>
<g font-size="50" fill="#4d4d4d" text-anchor="middle">
<text x="635.6" y="1552.9">7°E</text>
<text x="935.7" y="1552.9">8°E</text>
<text x="1235.9" y="1552.9">9°E</text>
<text x="1536.0" y="1552.9">10°E</text>
<text x="1836.2" y="1552.9">11°E</text>
<text x="2136.3" y="1552.9">12°E</text>
</g>
<g font-size="41.67" fill="#000">
<text x="829.5" y="1690.8">&lt;--- below lower tercile</text>
<text x="1579.5" y="1690.8">above upper tercile ---&gt;</text>
<rect x="235.0" y="1717.4" width="55.6" height="55.6" fill="#7f3b08" stroke="#000" stroke-width="2.6"/>
<text x="313.5" y="1760.2">70-100%</text>
<rect x="522.5" y="1717.4" width="55.6" height="55.6" fill="#b35806" stroke="#000" stroke-width="2.6"/>
<text x="601.0" y="1760.2">60-70%</text>
<rect x="783.7" y="1717.4" width="55.6" height="55.6" fill="#e08214" stroke="#000" stroke-width="2.6"/>
<text x="862.2" y="1760.2">50-60%</text>
<rect x="1044.9" y="1717.4" width="55.6" height="55.6" fill="#fdb863" stroke="#000" stroke-width="2.6"/>
<text x="1123.4" y="1760.2">40-50%</text>
<rect x="1306.1" y="1717.4" width="55.6" height="55.6" fill="#f7f7f7" stroke="#000" stroke-width="2.6"/>
<text x="1384.6" y="1760.2">other</text>
<rect x="1518.0" y="1717.4" width="55.6" height="55.6" fill="#d5e8d5" stroke="#000" stroke-width="2.6"/>
<text x="1596.5" y="1760.2">40-50%</text>
<rect x="1779.2" y="1717.4" width="55.6" height="55.6" fill="#7ac5c1" stroke="#000" stroke-width="2.6"/>
<text x="1857.7" y="1760.2">50-60%</text>
<rect x="2040.4" y="1717.4" width="55.6" height="55.6" fill="#21938b" stroke="#000" stroke-width="2.6"/>
<text x="2118.9" y="1760.2">60-70%</text>
<rect x="2301.6" y="1717.4" width="55.6" height="55.6" fill="#01665e" stroke="#000" stroke-width="2.6"/>
<text x="2380.1" y="1760.2">70-100%</text>
</g>
</g>
</svg>
</body></html>
